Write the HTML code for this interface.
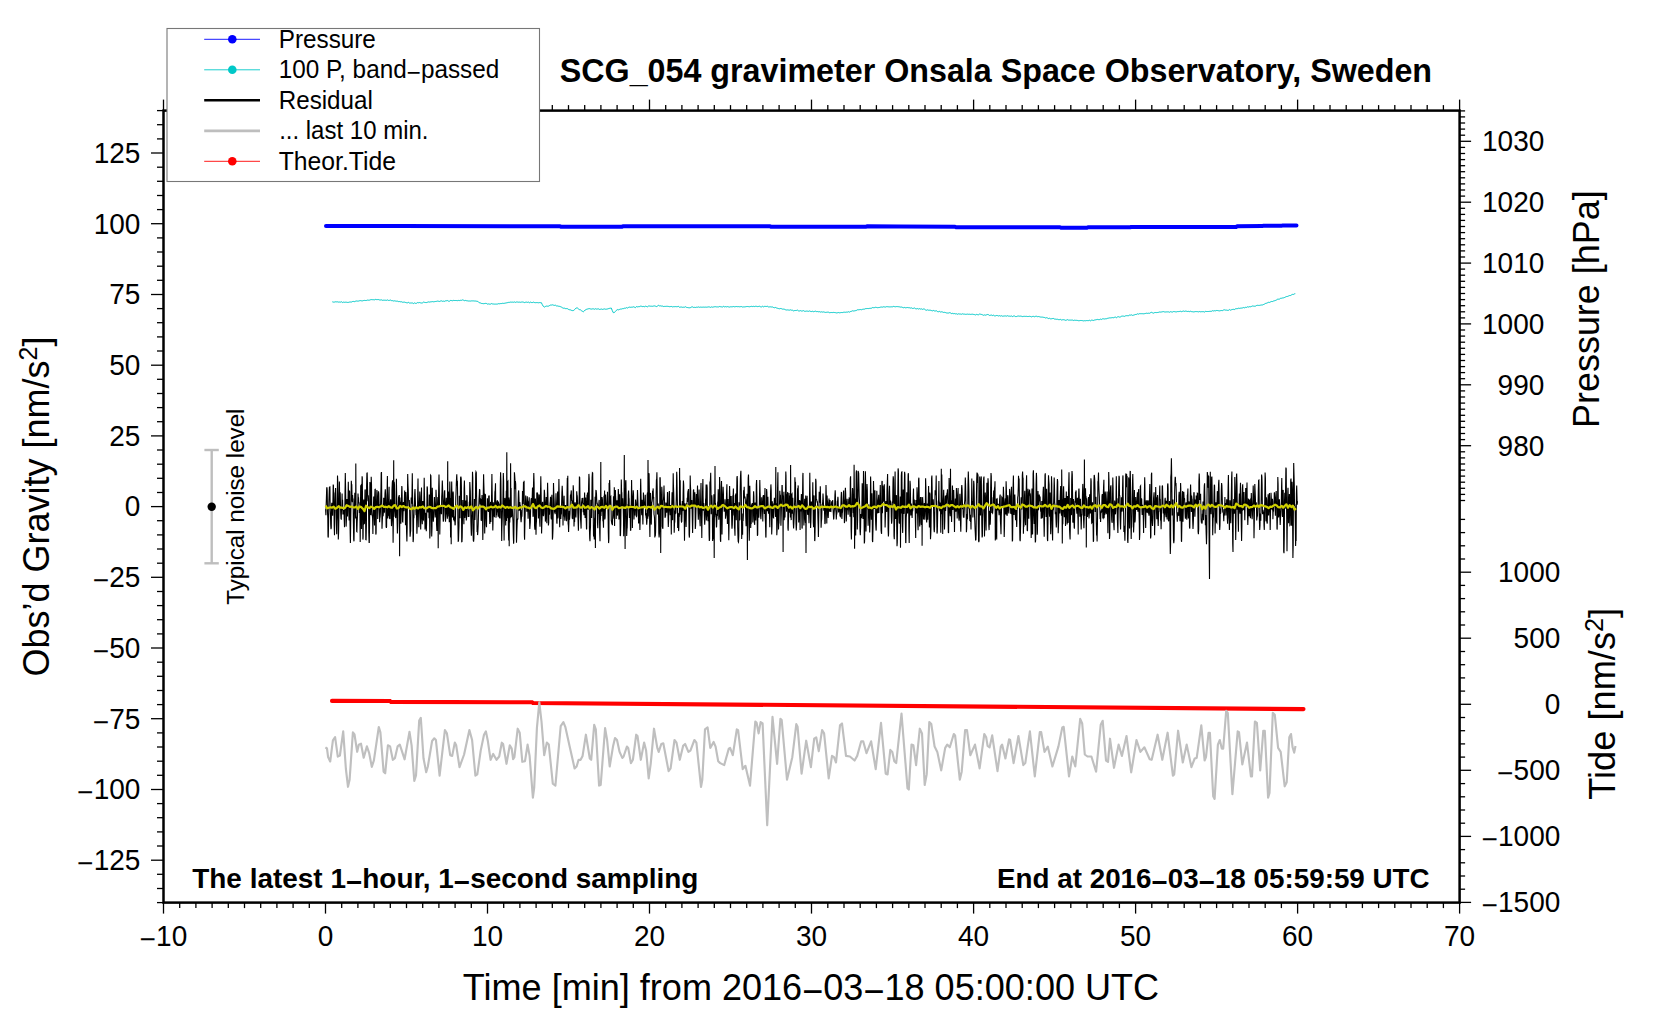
<!DOCTYPE html><html><head><meta charset="utf-8"><title>SCG_054 gravimeter Onsala Space Observatory</title><style>html,body{margin:0;padding:0;background:#fff;overflow:hidden}svg{display:block}</style></head><body><svg width="1660" height="1020" viewBox="0 0 1660 1020" font-family="'Liberation Sans', Arial, Helvetica, sans-serif">
<rect width="1660" height="1020" fill="#fff"/>
<polyline points="326.0,225.9 400.0,226.0 560.0,226.2 561.0,226.8 622.0,226.8 623.0,226.2 770.0,226.2 771.0,226.8 866.0,226.8 867.0,226.3 900.0,226.5 955.0,226.8 956.0,227.3 1060.0,227.3 1061.0,227.8 1087.0,227.8 1088.0,227.3 1130.0,227.3 1131.0,227.0 1236.0,227.0 1237.0,226.3 1262.0,226.1 1263.0,225.8 1282.0,225.7 1283.0,225.4 1296.5,225.4" fill="none" stroke="#0000ff" stroke-width="4.0" stroke-linecap="round" stroke-linejoin="round"/>
<polyline points="332.3,301.8 333.3,302.1 334.3,302.1 335.3,301.8 336.3,301.9 337.3,301.8 338.3,302.1 339.3,302.0 340.3,302.2 341.3,301.7 342.3,302.5 343.3,302.1 344.3,302.3 345.3,302.2 346.3,302.2 347.3,302.4 348.3,302.4 349.3,302.1 350.3,302.0 351.3,302.1 352.3,301.6 353.3,301.4 354.3,301.7 355.3,301.3 356.3,301.0 357.3,301.1 358.3,301.1 359.3,300.8 360.3,300.6 361.3,300.8 362.3,300.9 363.3,300.6 364.3,300.4 365.3,300.5 366.3,300.5 367.3,300.1 368.3,300.2 369.3,300.2 370.3,299.8 371.3,299.6 372.3,299.7 373.3,299.7 374.3,299.9 375.3,299.4 376.3,299.6 377.3,299.6 378.3,299.5 379.3,299.9 380.3,300.0 381.3,299.8 382.3,300.3 383.3,300.2 384.3,300.2 385.3,300.2 386.3,300.4 387.3,299.9 388.3,300.4 389.3,300.4 390.3,300.0 391.3,300.6 392.3,300.6 393.3,301.0 394.3,300.8 395.3,301.0 396.3,301.2 397.3,301.1 398.3,301.6 399.3,301.5 400.3,301.8 401.3,301.7 402.3,302.2 403.3,302.2 404.3,302.1 405.3,302.4 406.3,302.7 407.3,302.9 408.3,302.3 409.3,303.0 410.3,303.0 411.3,303.0 412.3,302.9 413.3,303.6 414.3,302.9 415.3,303.3 416.3,303.4 417.3,302.6 418.3,302.8 419.3,302.5 420.3,302.8 421.3,303.0 422.3,303.0 423.3,302.1 424.3,302.3 425.3,302.5 426.3,302.6 427.3,302.3 428.3,301.9 429.3,302.1 430.3,301.9 431.3,301.8 432.3,301.6 433.3,301.8 434.3,301.7 435.3,301.5 436.3,301.4 437.3,301.1 438.3,301.2 439.3,301.5 440.3,301.1 441.3,300.8 442.3,301.3 443.3,301.1 444.3,301.4 445.3,300.9 446.3,300.8 447.3,300.5 448.3,301.1 449.3,301.3 450.3,300.5 451.3,300.5 452.3,300.8 453.3,300.4 454.3,300.5 455.3,300.5 456.3,300.5 457.3,300.7 458.3,300.4 459.3,300.6 460.3,300.3 461.3,300.4 462.3,299.9 463.3,300.1 464.3,300.7 465.3,300.4 466.3,300.7 467.3,300.8 468.3,301.0 469.3,301.0 470.3,301.1 471.3,300.9 472.3,300.9 473.3,300.9 474.3,301.0 475.3,301.0 476.3,301.2 477.3,301.3 478.3,301.7 479.3,302.8 480.3,302.9 481.3,303.4 482.3,303.5 483.3,303.7 484.3,303.6 485.3,303.4 486.3,303.4 487.3,304.1 488.3,303.9 489.3,304.1 490.3,304.2 491.3,303.6 492.3,303.9 493.3,304.0 494.3,304.1 495.3,304.1 496.3,304.1 497.3,304.1 498.3,303.7 499.3,303.8 500.3,303.6 501.3,303.6 502.3,303.3 503.3,303.4 504.3,303.3 505.3,303.1 506.3,302.9 507.3,302.7 508.3,302.4 509.3,302.4 510.3,302.1 511.3,302.2 512.3,302.1 513.3,302.3 514.3,301.9 515.3,302.4 516.3,302.0 517.3,302.0 518.3,302.2 519.3,302.1 520.3,302.3 521.3,302.1 522.3,302.0 523.3,302.1 524.3,302.6 525.3,302.3 526.3,302.1 527.3,302.4 528.3,302.0 529.3,302.8 530.3,302.1 531.3,302.5 532.3,302.6 533.3,302.1 534.3,302.5 535.3,302.7 536.3,302.6 537.3,302.6 538.3,302.8 539.3,302.6 540.3,302.7 541.3,302.6 542.3,304.6 543.3,306.3 544.3,307.1 545.3,306.5 546.3,306.1 547.3,306.2 548.3,306.2 549.3,305.7 550.3,305.1 551.3,305.1 552.3,304.8 553.3,305.1 554.3,305.4 555.3,305.1 556.3,305.9 557.3,305.9 558.3,306.2 559.3,306.3 560.3,306.6 561.3,307.0 562.3,307.7 563.3,308.2 564.3,308.1 565.3,308.6 566.3,308.6 567.3,308.6 568.3,309.3 569.3,309.7 570.3,309.8 571.3,310.3 572.3,310.6 573.3,310.6 574.3,309.8 575.3,309.0 576.3,307.9 577.3,307.9 578.3,308.8 579.3,309.6 580.3,309.7 581.3,310.6 582.3,311.2 583.3,311.8 584.3,311.0 585.3,309.9 586.3,309.4 587.3,309.1 588.3,308.8 589.3,308.6 590.3,308.9 591.3,309.1 592.3,308.9 593.3,308.8 594.3,309.3 595.3,308.7 596.3,309.1 597.3,309.0 598.3,308.8 599.3,309.4 600.3,309.3 601.3,309.0 602.3,309.4 603.3,309.2 604.3,308.9 605.3,309.2 606.3,309.2 607.3,309.0 608.3,308.7 609.3,308.4 610.3,308.2 611.3,308.1 612.3,310.6 613.3,312.7 614.3,312.5 615.3,311.6 616.3,310.4 617.3,309.6 618.3,309.9 619.3,309.5 620.3,309.1 621.3,309.1 622.3,308.7 623.3,308.7 624.3,308.2 625.3,308.3 626.3,307.6 627.3,308.1 628.3,307.5 629.3,307.1 630.3,307.3 631.3,307.2 632.3,307.2 633.3,306.8 634.3,307.1 635.3,307.7 636.3,306.6 637.3,306.9 638.3,306.7 639.3,306.7 640.3,306.2 641.3,306.2 642.3,306.6 643.3,306.4 644.3,306.8 645.3,306.2 646.3,306.4 647.3,306.9 648.3,306.1 649.3,306.0 650.3,306.2 651.3,306.2 652.3,306.3 653.3,306.1 654.3,305.9 655.3,306.1 656.3,306.6 657.3,306.2 658.3,305.3 659.3,305.9 660.3,305.8 661.3,306.1 662.3,306.0 663.3,306.5 664.3,306.4 665.3,306.4 666.3,306.3 667.3,306.3 668.3,306.4 669.3,306.7 670.3,306.6 671.3,306.4 672.3,306.9 673.3,306.7 674.3,306.7 675.3,306.6 676.3,306.7 677.3,306.7 678.3,306.3 679.3,307.2 680.3,307.1 681.3,307.0 682.3,307.3 683.3,307.2 684.3,307.3 685.3,306.7 686.3,307.3 687.3,307.5 688.3,307.7 689.3,307.8 690.3,307.7 691.3,307.1 692.3,306.8 693.3,307.4 694.3,307.3 695.3,307.5 696.3,307.2 697.3,307.3 698.3,306.9 699.3,307.3 700.3,307.1 701.3,307.2 702.3,307.2 703.3,307.1 704.3,307.2 705.3,307.1 706.3,307.2 707.3,307.1 708.3,306.9 709.3,306.9 710.3,307.4 711.3,306.9 712.3,307.2 713.3,307.0 714.3,306.8 715.3,306.7 716.3,306.9 717.3,306.9 718.3,307.0 719.3,306.5 720.3,306.7 721.3,306.8 722.3,307.1 723.3,306.3 724.3,306.9 725.3,306.6 726.3,306.9 727.3,306.6 728.3,306.8 729.3,307.1 730.3,306.8 731.3,306.8 732.3,306.8 733.3,306.5 734.3,306.8 735.3,306.7 736.3,306.5 737.3,306.7 738.3,306.6 739.3,306.8 740.3,306.7 741.3,306.5 742.3,307.0 743.3,306.9 744.3,306.9 745.3,306.8 746.3,306.6 747.3,306.5 748.3,306.6 749.3,306.8 750.3,306.6 751.3,306.3 752.3,306.6 753.3,306.3 754.3,306.6 755.3,306.3 756.3,306.3 757.3,306.6 758.3,306.5 759.3,306.2 760.3,306.7 761.3,307.0 762.3,306.2 763.3,306.9 764.3,306.4 765.3,306.4 766.3,306.5 767.3,306.2 768.3,306.9 769.3,306.9 770.3,306.8 771.3,307.0 772.3,306.9 773.3,307.4 774.3,307.8 775.3,307.4 776.3,307.9 777.3,308.2 778.3,308.5 779.3,308.8 780.3,308.5 781.3,308.6 782.3,309.1 783.3,309.1 784.3,309.2 785.3,309.7 786.3,310.0 787.3,309.9 788.3,310.0 789.3,310.2 790.3,309.8 791.3,310.2 792.3,310.1 793.3,310.9 794.3,310.6 795.3,310.5 796.3,310.5 797.3,310.0 798.3,310.8 799.3,311.0 800.3,310.6 801.3,311.0 802.3,311.0 803.3,310.6 804.3,311.2 805.3,311.3 806.3,311.1 807.3,311.1 808.3,311.4 809.3,310.9 810.3,311.3 811.3,311.6 812.3,311.2 813.3,311.7 814.3,311.5 815.3,311.1 816.3,311.6 817.3,311.5 818.3,311.8 819.3,311.6 820.3,312.1 821.3,311.8 822.3,312.1 823.3,311.9 824.3,312.1 825.3,312.4 826.3,312.3 827.3,312.2 828.3,312.1 829.3,312.7 830.3,312.6 831.3,312.5 832.3,312.6 833.3,312.4 834.3,312.5 835.3,312.6 836.3,312.9 837.3,312.8 838.3,312.5 839.3,312.8 840.3,312.7 841.3,312.5 842.3,312.6 843.3,312.3 844.3,312.2 845.3,312.3 846.3,312.1 847.3,312.2 848.3,311.7 849.3,312.2 850.3,311.6 851.3,311.4 852.3,310.8 853.3,311.0 854.3,310.9 855.3,310.7 856.3,310.5 857.3,309.8 858.3,309.8 859.3,309.7 860.3,309.5 861.3,309.8 862.3,309.4 863.3,309.2 864.3,309.2 865.3,308.7 866.3,308.6 867.3,308.5 868.3,308.6 869.3,308.4 870.3,308.3 871.3,308.3 872.3,307.6 873.3,307.7 874.3,307.7 875.3,307.3 876.3,307.4 877.3,307.7 878.3,307.6 879.3,307.5 880.3,307.2 881.3,307.0 882.3,307.2 883.3,306.8 884.3,306.9 885.3,307.1 886.3,306.7 887.3,306.7 888.3,306.8 889.3,306.9 890.3,306.9 891.3,306.8 892.3,306.9 893.3,306.4 894.3,306.6 895.3,306.8 896.3,306.6 897.3,306.6 898.3,306.7 899.3,306.8 900.3,307.1 901.3,307.0 902.3,307.3 903.3,307.8 904.3,307.4 905.3,307.8 906.3,307.7 907.3,307.5 908.3,307.7 909.3,307.7 910.3,308.1 911.3,307.8 912.3,308.4 913.3,308.4 914.3,307.9 915.3,308.6 916.3,308.9 917.3,308.5 918.3,309.1 919.3,308.6 920.3,309.1 921.3,308.8 922.3,309.4 923.3,309.0 924.3,309.0 925.3,309.8 926.3,310.3 927.3,309.8 928.3,310.2 929.3,310.2 930.3,310.2 931.3,310.5 932.3,310.9 933.3,310.4 934.3,310.9 935.3,311.0 936.3,310.7 937.3,311.5 938.3,311.8 939.3,311.3 940.3,312.0 941.3,311.8 942.3,311.9 943.3,312.4 944.3,312.3 945.3,312.5 946.3,312.9 947.3,313.0 948.3,313.1 949.3,312.7 950.3,312.8 951.3,313.6 952.3,313.3 953.3,313.7 954.3,313.5 955.3,313.9 956.3,313.7 957.3,314.3 958.3,313.8 959.3,314.0 960.3,314.0 961.3,314.3 962.3,313.8 963.3,314.1 964.3,314.1 965.3,314.3 966.3,314.3 967.3,314.1 968.3,314.3 969.3,314.2 970.3,314.4 971.3,314.3 972.3,314.2 973.3,314.4 974.3,314.5 975.3,315.0 976.3,314.4 977.3,314.6 978.3,314.9 979.3,314.1 980.3,314.2 981.3,314.4 982.3,314.7 983.3,315.3 984.3,314.9 985.3,315.2 986.3,314.9 987.3,314.5 988.3,314.6 989.3,315.4 990.3,315.3 991.3,315.0 992.3,315.6 993.3,315.1 994.3,315.8 995.3,315.9 996.3,315.5 997.3,315.5 998.3,316.0 999.3,315.6 1000.3,316.1 1001.3,315.7 1002.3,316.2 1003.3,316.1 1004.3,316.0 1005.3,315.9 1006.3,316.2 1007.3,315.7 1008.3,316.1 1009.3,316.1 1010.3,316.3 1011.3,315.9 1012.3,316.6 1013.3,316.1 1014.3,315.9 1015.3,316.5 1016.3,316.6 1017.3,316.2 1018.3,316.0 1019.3,316.2 1020.3,316.1 1021.3,316.2 1022.3,316.6 1023.3,316.4 1024.3,316.3 1025.3,316.4 1026.3,316.3 1027.3,316.5 1028.3,316.5 1029.3,316.3 1030.3,316.4 1031.3,316.9 1032.3,316.5 1033.3,316.3 1034.3,316.8 1035.3,316.4 1036.3,316.2 1037.3,316.7 1038.3,316.5 1039.3,316.7 1040.3,317.0 1041.3,317.1 1042.3,317.1 1043.3,317.3 1044.3,317.4 1045.3,318.0 1046.3,317.7 1047.3,317.9 1048.3,318.6 1049.3,318.2 1050.3,318.8 1051.3,318.8 1052.3,318.6 1053.3,318.4 1054.3,319.0 1055.3,319.1 1056.3,319.3 1057.3,319.2 1058.3,319.6 1059.3,319.7 1060.3,319.3 1061.3,320.0 1062.3,319.8 1063.3,319.7 1064.3,319.8 1065.3,320.3 1066.3,320.2 1067.3,319.6 1068.3,320.1 1069.3,320.1 1070.3,320.1 1071.3,320.1 1072.3,320.0 1073.3,320.5 1074.3,320.2 1075.3,320.3 1076.3,320.3 1077.3,320.4 1078.3,320.7 1079.3,320.7 1080.3,320.5 1081.3,320.5 1082.3,320.6 1083.3,320.9 1084.3,320.7 1085.3,320.8 1086.3,320.6 1087.3,320.6 1088.3,320.7 1089.3,320.2 1090.3,320.9 1091.3,320.2 1092.3,320.2 1093.3,320.5 1094.3,320.1 1095.3,319.9 1096.3,319.7 1097.3,319.4 1098.3,319.6 1099.3,319.7 1100.3,319.1 1101.3,319.5 1102.3,318.9 1103.3,318.8 1104.3,319.0 1105.3,318.8 1106.3,318.8 1107.3,318.4 1108.3,318.2 1109.3,317.9 1110.3,317.9 1111.3,317.8 1112.3,317.6 1113.3,317.8 1114.3,317.4 1115.3,317.0 1116.3,317.8 1117.3,317.0 1118.3,316.7 1119.3,317.1 1120.3,317.0 1121.3,316.3 1122.3,316.1 1123.3,316.1 1124.3,316.4 1125.3,315.9 1126.3,315.7 1127.3,315.7 1128.3,315.8 1129.3,315.1 1130.3,315.2 1131.3,314.8 1132.3,315.4 1133.3,315.2 1134.3,314.9 1135.3,314.5 1136.3,314.5 1137.3,313.8 1138.3,314.2 1139.3,313.7 1140.3,313.7 1141.3,313.7 1142.3,313.7 1143.3,313.8 1144.3,313.7 1145.3,313.5 1146.3,313.2 1147.3,313.4 1148.3,313.2 1149.3,313.4 1150.3,312.8 1151.3,312.3 1152.3,312.7 1153.3,313.2 1154.3,312.7 1155.3,312.5 1156.3,312.6 1157.3,312.5 1158.3,312.4 1159.3,312.0 1160.3,312.1 1161.3,312.0 1162.3,311.8 1163.3,311.6 1164.3,311.9 1165.3,312.0 1166.3,311.9 1167.3,311.9 1168.3,311.8 1169.3,312.3 1170.3,311.7 1171.3,311.9 1172.3,312.1 1173.3,311.6 1174.3,311.6 1175.3,311.8 1176.3,311.9 1177.3,311.6 1178.3,311.6 1179.3,311.5 1180.3,311.2 1181.3,311.7 1182.3,311.4 1183.3,311.0 1184.3,311.4 1185.3,311.1 1186.3,311.2 1187.3,311.5 1188.3,311.3 1189.3,311.7 1190.3,311.2 1191.3,311.6 1192.3,311.7 1193.3,311.9 1194.3,311.8 1195.3,311.6 1196.3,311.6 1197.3,311.6 1198.3,311.9 1199.3,311.5 1200.3,311.8 1201.3,311.7 1202.3,311.7 1203.3,311.6 1204.3,312.1 1205.3,311.4 1206.3,311.5 1207.3,311.5 1208.3,311.5 1209.3,311.4 1210.3,311.3 1211.3,311.4 1212.3,310.7 1213.3,311.0 1214.3,310.7 1215.3,310.9 1216.3,310.5 1217.3,310.5 1218.3,310.7 1219.3,310.9 1220.3,310.7 1221.3,310.5 1222.3,310.7 1223.3,310.1 1224.3,309.8 1225.3,310.1 1226.3,310.1 1227.3,310.3 1228.3,310.4 1229.3,309.5 1230.3,310.2 1231.3,309.8 1232.3,309.5 1233.3,309.3 1234.3,309.6 1235.3,308.9 1236.3,308.7 1237.3,308.7 1238.3,308.2 1239.3,308.4 1240.3,308.2 1241.3,308.1 1242.3,308.0 1243.3,307.5 1244.3,307.9 1245.3,307.3 1246.3,307.5 1247.3,306.8 1248.3,307.1 1249.3,306.7 1250.3,306.8 1251.3,306.5 1252.3,306.0 1253.3,306.1 1254.3,306.2 1255.3,306.2 1256.3,305.6 1257.3,305.3 1258.3,305.4 1259.3,305.4 1260.3,305.2 1261.3,305.0 1262.3,305.0 1263.3,304.6 1264.3,304.2 1265.3,303.5 1266.3,303.3 1267.3,302.9 1268.3,302.3 1269.3,302.5 1270.3,302.0 1271.3,301.5 1272.3,301.6 1273.3,301.1 1274.3,300.8 1275.3,300.5 1276.3,300.1 1277.3,299.3 1278.3,299.2 1279.3,299.2 1280.3,298.4 1281.3,298.3 1282.3,298.0 1283.3,297.9 1284.3,297.6 1285.3,297.1 1286.3,296.6 1287.3,296.5 1288.3,296.1 1289.3,295.6 1290.3,295.6 1291.3,295.0 1292.3,294.4 1293.3,294.5 1294.3,293.9 1295.3,293.7" fill="none" stroke="#00c8c8" stroke-width="1" stroke-linejoin="round"/>
<polyline points="325.6,509.3 325.9,515.2 326.1,506.4 326.4,497.9 326.7,487.7 327.0,487.7 327.2,490.5 327.5,512.6 327.8,518.5 328.0,536.4 328.3,537.5 328.6,521.6 328.8,503.9 329.1,495.5 329.4,487.0 329.7,490.2 329.9,486.2 330.2,510.5 330.5,515.6 330.7,524.6 331.0,529.1 331.3,527.5 331.5,506.4 331.8,502.9 332.1,509.0 332.4,507.6 332.6,515.7 332.9,502.7 333.2,484.6 333.4,485.2 333.7,495.6 334.0,508.4 334.2,526.1 334.5,535.2 334.8,511.4 335.1,492.6 335.3,494.6 335.6,488.0 335.9,503.3 336.1,509.1 336.4,523.9 336.7,534.3 336.9,521.2 337.2,515.3 337.5,475.4 337.8,482.2 338.0,493.5 338.3,539.6 338.6,532.6 338.8,521.0 339.1,501.3 339.4,481.4 339.6,494.3 339.9,507.1 340.2,492.3 340.5,504.3 340.7,513.2 341.0,518.9 341.3,519.1 341.5,508.6 341.8,509.0 342.1,493.6 342.3,504.6 342.6,499.7 342.9,513.9 343.2,513.9 343.4,512.1 343.7,511.3 344.0,510.0 344.2,519.0 344.5,527.3 344.8,509.6 345.0,494.4 345.3,472.9 345.6,488.5 345.9,507.9 346.1,526.6 346.4,520.4 346.7,510.3 346.9,499.1 347.2,505.7 347.5,516.5 347.7,500.7 348.0,501.1 348.3,481.8 348.6,499.6 348.8,511.6 349.1,520.4 349.4,490.5 349.6,491.6 349.9,517.5 350.2,534.4 350.4,542.9 350.7,523.1 351.0,502.7 351.3,480.8 351.5,484.0 351.8,484.6 352.1,499.9 352.3,502.2 352.6,494.9 352.9,501.7 353.1,498.4 353.4,523.0 353.7,539.4 354.0,541.3 354.2,527.9 354.5,504.8 354.8,492.7 355.0,493.7 355.3,502.3 355.6,518.4 355.8,463.4 356.1,516.2 356.4,517.7 356.7,531.4 356.9,531.6 357.2,521.6 357.5,515.9 357.7,508.3 358.0,493.6 358.3,499.2 358.5,497.4 358.8,503.5 359.1,502.2 359.4,512.9 359.6,511.5 359.9,509.9 360.2,542.0 360.4,516.4 360.7,485.9 361.0,485.4 361.2,505.3 361.5,529.1 361.8,498.0 362.1,476.3 362.3,478.0 362.6,509.1 362.9,539.6 363.1,537.0 363.4,507.8 363.7,499.6 363.9,512.3 364.2,523.6 364.5,523.3 364.8,501.5 365.0,490.4 365.3,489.5 365.6,515.1 365.8,539.6 366.1,539.7 366.4,526.1 366.6,486.1 366.9,473.2 367.2,473.1 367.5,486.6 367.7,495.9 368.0,501.1 368.3,495.4 368.5,499.3 368.8,532.4 369.1,542.5 369.3,542.5 369.6,521.0 369.9,482.1 370.2,485.4 370.4,513.3 370.7,515.1 371.0,494.9 371.2,476.7 371.5,484.3 371.8,510.2 372.0,515.1 372.3,515.3 372.6,518.4 372.9,534.1 373.1,516.2 373.4,510.0 373.7,496.5 373.9,506.2 374.2,515.5 374.5,525.4 374.7,497.0 375.0,489.4 375.3,489.3 375.6,513.4 375.8,534.6 376.1,533.3 376.4,506.2 376.6,500.4 376.9,490.0 377.2,493.4 377.4,497.9 377.7,518.9 378.0,510.5 378.3,503.8 378.5,491.3 378.8,493.5 379.1,504.4 379.3,503.9 379.6,522.2 379.9,517.8 380.1,517.2 380.4,512.8 380.7,499.7 381.0,486.8 381.2,472.8 381.5,472.1 381.8,505.3 382.0,528.7 382.3,521.3 382.6,515.2 382.9,506.8 383.1,516.1 383.4,512.3 383.7,497.8 383.9,503.0 384.2,511.6 384.5,512.0 384.7,503.6 385.0,493.6 385.3,489.3 385.6,494.9 385.8,503.2 386.1,526.6 386.4,527.9 386.6,526.7 386.9,501.3 387.2,485.4 387.4,476.1 387.7,518.5 388.0,515.8 388.3,515.5 388.5,507.1 388.8,494.4 389.1,486.8 389.3,513.8 389.6,518.4 389.9,519.0 390.1,505.8 390.4,502.1 390.7,499.3 391.0,503.1 391.2,517.7 391.5,526.1 391.8,520.0 392.0,490.1 392.3,482.8 392.6,480.3 392.8,509.6 393.1,542.8 393.4,519.1 393.7,460.3 393.9,516.7 394.2,481.7 394.5,484.9 394.7,503.5 395.0,510.4 395.3,513.5 395.5,517.1 395.8,518.1 396.1,508.2 396.4,478.8 396.6,491.8 396.9,511.2 397.2,525.1 397.4,533.4 397.7,525.5 398.0,505.5 398.2,508.2 398.5,497.7 398.8,496.6 399.1,497.1 399.3,495.1 399.6,556.3 399.9,497.5 400.1,503.4 400.4,503.0 400.7,511.2 400.9,523.7 401.2,510.0 401.5,498.2 401.8,486.0 402.0,487.7 402.3,507.0 402.6,521.8 402.8,521.9 403.1,512.3 403.4,502.0 403.6,504.8 403.9,511.2 404.2,506.5 404.5,495.7 404.7,490.5 405.0,503.4 405.3,509.6 405.5,525.2 405.8,492.0 406.1,497.3 406.3,517.1 406.6,533.3 406.9,541.5 407.2,527.6 407.4,500.3 407.7,474.0 408.0,485.0 408.2,488.9 408.5,499.0 408.8,503.0 409.0,506.4 409.3,499.9 409.6,508.5 409.9,528.7 410.1,536.7 410.4,533.2 410.7,530.6 410.9,510.0 411.2,497.4 411.5,500.5 411.7,503.6 412.0,493.2 412.3,473.2 412.6,497.6 412.8,514.6 413.1,542.1 413.4,539.1 413.6,514.8 413.9,518.3 414.2,505.4 414.4,505.5 414.7,493.7 415.0,489.0 415.3,498.2 415.5,505.1 415.8,509.1 416.1,515.2 416.3,507.9 416.6,518.1 416.9,533.8 417.1,528.8 417.4,519.2 417.7,494.6 418.0,478.4 418.2,495.6 418.5,509.1 418.8,527.2 419.0,519.3 419.3,505.9 419.6,497.7 419.8,491.6 420.1,496.2 420.4,514.6 420.7,529.4 420.9,520.3 421.2,506.2 421.5,487.4 421.7,509.0 422.0,518.2 422.3,524.3 422.5,504.0 422.8,501.1 423.1,502.0 423.4,519.7 423.6,520.0 423.9,502.6 424.2,477.7 424.4,491.6 424.7,505.5 425.0,529.5 425.2,521.9 425.5,512.7 425.8,515.0 426.1,526.8 426.3,531.2 426.6,523.4 426.9,501.7 427.1,486.5 427.4,487.7 427.7,500.3 427.9,512.6 428.2,505.8 428.5,506.9 428.8,506.3 429.0,518.2 429.3,494.4 429.6,517.2 429.8,538.5 430.1,532.2 430.4,497.2 430.6,475.2 430.9,475.6 431.2,496.7 431.5,520.0 431.7,536.5 432.0,528.1 432.3,487.8 432.5,497.8 432.8,513.0 433.1,515.4 433.3,521.7 433.6,517.8 433.9,511.5 434.2,503.8 434.4,497.0 434.7,505.3 435.0,505.7 435.2,517.4 435.5,512.3 435.8,501.9 436.0,489.8 436.3,496.9 436.6,525.6 436.9,531.0 437.1,530.1 437.4,506.9 437.7,499.8 437.9,497.0 438.2,548.3 438.5,499.1 438.7,488.1 439.0,474.6 439.3,490.6 439.6,516.1 439.8,534.4 440.1,516.4 440.4,505.4 440.6,505.8 440.9,509.1 441.2,512.6 441.5,514.2 441.7,497.4 442.0,492.0 442.3,480.4 442.5,485.2 442.8,495.2 443.1,518.0 443.3,521.6 443.6,519.2 443.9,502.3 444.2,497.7 444.4,491.8 444.7,490.3 445.0,506.9 445.2,514.9 445.5,521.7 445.8,516.4 446.0,502.9 446.3,497.7 446.6,510.8 446.9,514.0 447.1,514.7 447.4,518.8 447.7,461.3 447.9,516.5 448.2,494.3 448.5,491.4 448.7,502.2 449.0,512.0 449.3,522.2 449.6,498.1 449.8,481.5 450.1,494.4 450.4,520.8 450.6,537.6 450.9,498.0 451.2,544.3 451.4,499.9 451.7,481.6 452.0,498.8 452.3,511.7 452.5,517.5 452.8,497.5 453.1,491.5 453.3,493.5 453.6,520.0 453.9,507.9 454.1,521.3 454.4,519.6 454.7,516.5 455.0,524.6 455.2,525.3 455.5,516.4 455.8,497.0 456.0,494.3 456.3,483.9 456.6,477.0 456.8,474.2 457.1,485.6 457.4,480.8 457.7,502.7 457.9,521.7 458.2,541.3 458.5,541.2 458.7,534.6 459.0,525.5 459.3,495.8 459.5,496.8 459.8,504.9 460.1,518.3 460.4,488.3 460.6,477.7 460.9,476.7 461.2,478.5 461.4,486.9 461.7,541.8 462.0,541.7 462.2,536.9 462.5,515.9 462.8,500.0 463.1,514.8 463.3,509.9 463.6,514.6 463.9,524.3 464.1,489.1 464.4,480.5 464.7,494.1 464.9,517.9 465.2,513.5 465.5,507.4 465.8,500.4 466.0,507.8 466.3,520.4 466.6,517.8 466.8,495.0 467.1,496.6 467.4,508.2 467.6,508.0 467.9,510.0 468.2,516.9 468.5,510.1 468.7,511.5 469.0,516.9 469.3,501.8 469.5,508.2 469.8,482.0 470.1,487.8 470.3,490.7 470.6,504.8 470.9,522.2 471.2,532.1 471.4,535.8 471.7,521.8 472.0,512.2 472.2,495.8 472.5,471.7 472.8,477.8 473.0,530.0 473.3,540.4 473.6,541.7 473.9,538.4 474.1,524.8 474.4,498.9 474.7,504.9 474.9,519.9 475.2,513.3 475.5,495.5 475.7,473.9 476.0,471.8 476.3,472.5 476.6,496.6 476.8,507.3 477.1,532.1 477.4,529.8 477.6,535.1 477.9,531.4 478.2,524.5 478.4,517.3 478.7,507.8 479.0,499.8 479.3,494.4 479.5,489.7 479.8,489.9 480.1,504.6 480.3,498.4 480.6,500.0 480.9,499.1 481.1,520.1 481.4,520.3 481.7,504.8 482.0,495.1 482.2,500.1 482.5,512.5 482.8,540.1 483.0,530.0 483.3,490.8 483.6,474.3 483.8,482.5 484.1,491.9 484.4,512.4 484.7,533.5 484.9,523.9 485.2,494.5 485.5,494.8 485.7,512.4 486.0,516.7 486.3,525.6 486.5,527.3 486.8,510.1 487.1,511.2 487.4,498.2 487.6,503.5 487.9,502.3 488.2,508.6 488.4,511.9 488.7,495.8 489.0,497.6 489.2,495.4 489.5,513.9 489.8,524.0 490.1,521.7 490.3,506.4 490.6,501.9 490.9,522.0 491.1,511.2 491.4,508.6 491.7,487.1 491.9,474.1 492.2,494.4 492.5,512.3 492.8,530.5 493.0,523.8 493.3,502.2 493.6,507.0 493.8,516.2 494.1,511.0 494.4,517.3 494.6,503.5 494.9,491.7 495.2,490.4 495.5,483.2 495.7,502.7 496.0,517.8 496.3,513.3 496.5,515.2 496.8,502.9 497.1,500.8 497.4,500.7 497.6,511.6 497.9,512.6 498.2,516.7 498.4,501.5 498.7,511.6 499.0,503.6 499.2,516.6 499.5,518.2 499.8,507.1 500.1,518.4 500.3,484.8 500.6,472.2 500.9,481.0 501.1,500.0 501.4,516.0 501.7,541.0 501.9,527.9 502.2,520.3 502.5,508.9 502.8,506.9 503.0,495.1 503.3,473.1 503.6,480.9 503.8,515.5 504.1,540.6 504.4,509.2 504.6,506.4 504.9,497.9 505.2,501.4 505.5,519.1 505.7,525.6 506.0,507.7 506.3,490.7 506.5,520.9 506.8,452.2 507.1,518.2 507.3,491.4 507.6,481.9 507.9,481.4 508.2,513.7 508.4,529.3 508.7,540.5 509.0,497.4 509.2,546.2 509.5,499.4 509.8,522.6 510.0,503.1 510.3,518.2 510.6,463.2 510.9,516.0 511.1,488.0 511.4,517.3 511.7,514.8 511.9,511.9 512.2,506.6 512.5,512.4 512.7,516.3 513.0,520.9 513.3,535.6 513.6,543.8 513.8,541.3 514.1,515.8 514.4,472.2 514.6,474.3 514.9,478.7 515.2,489.3 515.4,481.0 515.7,484.0 516.0,504.4 516.3,518.6 516.5,542.7 516.8,534.0 517.1,525.0 517.3,520.1 517.6,518.9 517.9,518.9 518.1,504.7 518.4,493.1 518.7,490.4 519.0,499.1 519.2,510.7 519.5,509.8 519.8,502.1 520.0,504.4 520.3,505.2 520.6,515.3 520.8,519.1 521.1,522.2 521.4,518.5 521.7,509.9 521.9,516.8 522.2,508.3 522.5,490.9 522.7,496.9 523.0,504.0 523.3,491.7 523.5,482.0 523.8,485.5 524.1,480.8 524.4,535.8 524.6,539.8 524.9,523.9 525.2,514.0 525.4,503.2 525.7,495.6 526.0,501.3 526.2,506.2 526.5,505.6 526.8,511.8 527.1,505.4 527.3,496.2 527.6,504.1 527.9,510.7 528.1,518.7 528.4,506.8 528.7,500.7 528.9,502.9 529.2,497.3 529.5,517.9 529.8,529.0 530.0,526.2 530.3,522.2 530.6,510.2 530.8,503.9 531.1,499.5 531.4,498.1 531.6,507.8 531.9,503.7 532.2,497.8 532.5,487.4 532.7,494.4 533.0,516.8 533.3,515.4 533.5,485.3 533.8,472.9 534.1,483.1 534.3,502.4 534.6,526.3 534.9,529.6 535.2,505.9 535.4,498.5 535.7,505.9 536.0,534.8 536.2,524.6 536.5,520.8 536.8,492.5 537.0,505.4 537.3,495.2 537.6,493.8 537.9,494.7 538.1,504.9 538.4,518.6 538.7,508.0 538.9,503.9 539.2,494.6 539.5,509.6 539.7,522.1 540.0,526.8 540.3,499.5 540.6,487.7 540.8,476.2 541.1,492.2 541.4,512.8 541.6,533.5 541.9,522.0 542.2,514.3 542.4,502.9 542.7,501.8 543.0,514.4 543.3,514.0 543.5,516.1 543.8,513.6 544.1,497.6 544.3,489.7 544.6,493.3 544.9,503.1 545.1,510.8 545.4,521.6 545.7,515.6 546.0,501.9 546.2,497.1 546.5,513.3 546.8,523.3 547.0,504.1 547.3,498.0 547.6,482.7 547.8,491.8 548.1,504.3 548.4,525.4 548.7,522.9 548.9,511.5 549.2,505.2 549.5,514.8 549.7,510.1 550.0,503.5 550.3,501.1 550.5,496.9 550.8,501.6 551.1,517.9 551.4,519.3 551.6,499.6 551.9,494.8 552.2,520.1 552.4,539.6 552.7,537.0 553.0,528.7 553.2,509.9 553.5,483.1 553.8,493.8 554.1,499.8 554.3,504.3 554.6,512.8 554.9,508.8 555.1,514.2 555.4,511.0 555.7,503.6 556.0,493.2 556.2,501.2 556.5,512.9 556.8,522.8 557.0,523.7 557.3,506.3 557.6,491.6 557.8,518.5 558.1,516.9 558.4,501.3 558.7,493.3 558.9,479.1 559.2,495.2 559.5,519.0 559.7,527.2 560.0,507.5 560.3,510.5 560.5,507.7 560.8,518.9 561.1,512.3 561.4,514.6 561.6,504.6 561.9,492.9 562.2,485.8 562.4,490.6 562.7,497.0 563.0,525.4 563.2,514.3 563.5,516.5 563.8,503.8 564.1,495.7 564.3,509.5 564.6,517.0 564.9,520.7 565.1,513.3 565.4,504.9 565.7,511.5 565.9,505.4 566.2,515.8 566.5,521.1 566.8,518.6 567.0,495.6 567.3,478.0 567.6,482.4 567.8,475.8 568.1,523.4 568.4,525.9 568.6,532.1 568.9,523.0 569.2,510.8 569.5,519.8 569.7,517.8 570.0,514.0 570.3,500.9 570.5,494.6 570.8,496.2 571.1,492.3 571.3,490.4 571.6,500.5 571.9,500.6 572.2,518.6 572.4,518.0 572.7,519.1 573.0,502.5 573.2,485.2 573.5,490.1 573.8,505.1 574.0,526.4 574.3,518.4 574.6,522.0 574.9,502.9 575.1,502.8 575.4,503.9 575.7,511.9 575.9,517.5 576.2,510.0 576.5,505.0 576.7,491.2 577.0,495.2 577.3,496.5 577.6,505.2 577.8,513.4 578.1,521.6 578.4,530.7 578.6,520.0 578.9,506.0 579.2,495.4 579.4,476.6 579.7,477.6 580.0,499.3 580.3,508.2 580.5,518.2 580.8,523.2 581.1,528.6 581.3,515.5 581.6,502.0 581.9,500.7 582.1,498.0 582.4,503.2 582.7,502.4 583.0,497.8 583.2,512.3 583.5,503.0 583.8,513.2 584.0,515.1 584.3,506.2 584.6,492.4 584.8,500.2 585.1,517.9 585.4,506.1 585.7,497.6 585.9,504.0 586.2,518.9 586.5,529.4 586.7,528.9 587.0,494.7 587.3,496.9 587.5,492.4 587.8,505.2 588.1,509.7 588.4,495.7 588.6,486.6 588.9,473.9 589.2,478.4 589.4,528.0 589.7,538.1 590.0,541.3 590.2,531.9 590.5,526.7 590.8,499.7 591.1,510.2 591.3,510.2 591.6,518.0 591.9,497.4 592.1,477.4 592.4,472.8 592.7,473.1 592.9,495.9 593.2,509.5 593.5,535.1 593.8,536.7 594.0,532.9 594.3,539.4 594.6,517.8 594.8,518.8 595.1,496.8 595.4,548.1 595.6,498.9 595.9,490.5 596.2,490.6 596.5,494.4 596.7,499.5 597.0,503.9 597.3,502.8 597.5,523.1 597.8,528.2 598.1,514.6 598.3,504.6 598.6,514.1 598.9,502.3 599.2,499.9 599.4,508.7 599.7,533.0 600.0,541.3 600.2,521.9 600.5,518.3 600.8,462.1 601.0,516.1 601.3,501.9 601.6,511.7 601.9,497.5 602.1,497.5 602.4,499.2 602.7,510.1 602.9,520.6 603.2,520.6 603.5,527.8 603.7,513.0 604.0,495.8 604.3,497.7 604.6,490.5 604.8,519.5 605.1,517.6 605.4,508.3 605.6,494.5 605.9,502.1 606.2,505.5 606.4,506.9 606.7,508.0 607.0,508.8 607.3,497.7 607.5,491.8 607.8,503.6 608.1,516.6 608.3,532.1 608.6,543.1 608.9,538.7 609.1,483.1 609.4,483.9 609.7,480.0 610.0,497.1 610.2,504.8 610.5,497.1 610.8,496.6 611.0,504.0 611.3,520.4 611.6,522.1 611.9,524.1 612.1,523.1 612.4,525.2 612.7,516.3 612.9,510.4 613.2,509.0 613.5,496.2 613.7,513.6 614.0,518.8 614.3,487.2 614.6,525.9 614.8,503.9 615.1,501.3 615.4,490.0 615.6,496.9 615.9,501.3 616.2,519.1 616.4,513.6 616.7,514.3 617.0,500.3 617.3,506.8 617.5,515.6 617.8,509.3 618.1,500.6 618.3,489.0 618.6,494.0 618.9,519.5 619.1,510.1 619.4,500.1 619.7,494.2 620.0,517.0 620.2,536.1 620.5,535.2 620.8,523.8 621.0,504.2 621.3,479.6 621.6,492.4 621.8,492.6 622.1,506.5 622.4,500.5 622.7,498.3 622.9,503.6 623.2,506.9 623.5,518.6 623.7,536.3 624.0,520.1 624.3,455.1 624.5,517.5 624.8,496.6 625.1,549.1 625.4,498.7 625.6,481.8 625.9,480.2 626.2,500.3 626.4,517.1 626.7,536.0 627.0,528.8 627.2,527.7 627.5,516.8 627.8,506.0 628.1,506.5 628.3,495.2 628.6,490.6 628.9,498.1 629.1,498.6 629.4,518.1 629.7,505.8 629.9,505.8 630.2,515.0 630.5,530.3 630.8,530.2 631.0,511.1 631.3,500.6 631.6,479.9 631.8,493.7 632.1,500.5 632.4,528.1 632.6,516.0 632.9,501.1 633.2,490.2 633.5,493.8 633.7,505.2 634.0,519.4 634.3,510.9 634.5,507.7 634.8,515.5 635.1,507.0 635.3,509.9 635.6,499.6 635.9,502.3 636.2,515.5 636.4,516.4 636.7,516.0 637.0,505.9 637.2,501.8 637.5,489.9 637.8,498.1 638.0,503.2 638.3,513.8 638.6,523.6 638.9,513.0 639.1,507.9 639.4,510.0 639.7,521.1 639.9,530.0 640.2,518.1 640.5,489.0 640.7,478.7 641.0,494.2 641.3,503.5 641.6,513.2 641.8,515.3 642.1,499.8 642.4,510.5 642.6,513.7 642.9,524.6 643.2,508.5 643.4,492.6 643.7,496.4 644.0,504.7 644.3,504.4 644.5,507.3 644.8,504.0 645.1,501.1 645.3,494.8 645.6,515.4 645.9,513.0 646.1,517.1 646.4,518.5 646.7,524.7 647.0,520.7 647.2,494.8 647.5,492.7 647.8,518.8 648.0,460.0 648.3,516.4 648.6,501.4 648.8,473.1 649.1,474.0 649.4,492.0 649.7,526.4 649.9,536.9 650.2,513.6 650.5,492.9 650.7,496.9 651.0,518.4 651.3,524.6 651.5,513.6 651.8,502.7 652.1,501.5 652.4,498.6 652.6,490.8 652.9,492.4 653.2,488.4 653.4,498.4 653.7,497.0 654.0,514.5 654.2,515.3 654.5,517.9 654.8,537.4 655.1,534.8 655.3,536.2 655.6,532.1 655.9,514.8 656.1,496.1 656.4,480.1 656.7,478.8 656.9,472.2 657.2,488.1 657.5,514.5 657.8,511.9 658.0,512.7 658.3,503.4 658.6,517.9 658.8,532.9 659.1,537.5 659.4,534.1 659.6,529.8 659.9,477.9 660.2,477.9 660.5,495.5 660.7,553.0 661.0,497.8 661.3,509.2 661.5,497.5 661.8,486.7 662.1,491.9 662.3,526.5 662.6,527.6 662.9,528.8 663.2,501.0 663.4,499.8 663.7,496.0 664.0,485.6 664.2,493.1 664.5,500.6 664.8,509.4 665.0,517.8 665.3,516.6 665.6,516.0 665.9,502.6 666.1,503.9 666.4,505.4 666.7,512.8 666.9,507.0 667.2,502.9 667.5,492.1 667.7,505.4 668.0,515.8 668.3,527.0 668.6,520.7 668.8,509.2 669.1,493.5 669.4,491.1 669.6,506.7 669.9,510.8 670.2,515.2 670.5,506.1 670.7,505.0 671.0,512.7 671.3,534.6 671.5,515.9 671.8,503.3 672.1,492.3 672.3,517.8 672.6,520.2 672.9,499.6 673.2,473.2 673.4,484.3 673.7,492.6 674.0,505.0 674.2,532.8 674.5,523.4 674.8,521.7 675.0,510.5 675.3,514.2 675.6,506.2 675.9,513.6 676.1,504.5 676.4,493.5 676.7,471.7 676.9,475.7 677.2,493.1 677.5,508.7 677.7,528.1 678.0,513.2 678.3,519.1 678.6,531.1 678.8,528.9 679.1,512.7 679.4,516.7 679.6,468.0 679.9,514.8 680.2,480.3 680.4,504.7 680.7,504.5 681.0,507.1 681.3,520.7 681.5,521.9 681.8,521.5 682.1,511.7 682.3,501.0 682.6,509.8 682.9,511.1 683.1,495.8 683.4,480.5 683.7,484.8 684.0,505.9 684.2,517.5 684.5,540.8 684.8,519.2 685.0,503.2 685.3,506.7 685.6,504.4 685.8,518.4 686.1,526.9 686.4,511.5 686.7,503.1 686.9,506.3 687.2,497.7 687.5,502.1 687.7,493.5 688.0,490.8 688.3,490.2 688.5,489.1 688.8,508.5 689.1,534.6 689.4,537.6 689.6,529.7 689.9,509.1 690.2,475.5 690.4,484.7 690.7,490.6 691.0,508.6 691.2,505.5 691.5,504.5 691.8,499.9 692.1,509.8 692.3,519.2 692.6,532.9 692.9,518.9 693.1,501.1 693.4,490.1 693.7,489.4 693.9,496.5 694.2,505.0 694.5,494.8 694.8,492.2 695.0,498.1 695.3,529.0 695.6,525.3 695.8,515.9 696.1,505.8 696.4,493.9 696.6,506.8 696.9,507.5 697.2,498.5 697.5,485.4 697.7,494.5 698.0,511.0 698.3,519.8 698.5,514.4 698.8,504.2 699.1,489.4 699.3,501.2 699.6,512.3 699.9,521.6 700.2,526.3 700.4,510.6 700.7,495.3 701.0,483.1 701.2,504.2 701.5,517.7 701.8,537.9 702.0,519.6 702.3,508.4 702.6,489.5 702.9,479.1 703.1,496.2 703.4,510.8 703.7,503.1 703.9,505.1 704.2,511.1 704.5,520.4 704.7,524.8 705.0,519.1 705.3,513.7 705.6,499.4 705.8,498.1 706.1,484.4 706.4,520.4 706.6,493.8 706.9,484.5 707.2,488.0 707.4,516.4 707.7,515.3 708.0,521.3 708.3,506.9 708.5,506.4 708.8,513.0 709.1,534.8 709.3,541.0 709.6,539.0 709.9,482.5 710.1,482.1 710.4,480.8 710.7,472.7 711.0,490.7 711.2,514.3 711.5,499.4 711.8,495.4 712.0,498.2 712.3,510.0 712.6,540.9 712.8,538.3 713.1,538.4 713.4,523.4 713.7,504.5 713.9,494.2 714.2,558.0 714.5,496.8 714.7,517.2 715.0,466.0 715.3,515.2 715.5,503.0 715.8,508.2 716.1,516.3 716.4,527.4 716.6,526.6 716.9,518.2 717.2,513.7 717.4,515.9 717.7,502.0 718.0,501.7 718.2,489.3 718.5,503.7 718.8,519.7 719.1,514.7 719.3,500.6 719.6,477.1 719.9,486.0 720.1,515.5 720.4,540.0 720.7,541.8 720.9,516.1 721.2,493.8 721.5,481.1 721.8,496.4 722.0,534.6 722.3,515.6 722.6,494.1 722.8,495.9 723.1,486.7 723.4,493.0 723.6,503.5 723.9,504.1 724.2,511.7 724.5,505.4 724.7,508.7 725.0,499.3 725.3,508.1 725.5,518.8 725.8,516.5 726.1,515.0 726.4,500.6 726.6,492.6 726.9,484.2 727.2,507.9 727.4,523.9 727.7,504.0 728.0,498.9 728.2,506.6 728.5,521.6 728.8,540.2 729.1,521.9 729.3,498.9 729.6,486.1 729.9,498.3 730.1,496.1 730.4,510.0 730.7,497.2 730.9,499.8 731.2,496.0 731.5,508.5 731.8,524.9 732.0,528.6 732.3,524.6 732.6,512.8 732.8,495.6 733.1,496.4 733.4,488.6 733.6,506.3 733.9,515.6 734.2,503.1 734.5,527.9 734.7,528.9 735.0,535.8 735.3,495.3 735.5,497.1 735.8,493.5 736.1,503.2 736.3,520.3 736.6,500.8 736.9,477.7 737.2,476.1 737.4,481.2 737.7,527.4 738.0,538.0 738.2,541.6 738.5,542.1 738.8,535.6 739.0,502.3 739.3,512.9 739.6,520.4 739.9,519.2 740.1,492.5 740.4,478.9 740.7,472.8 740.9,470.8 741.2,484.7 741.5,511.8 741.7,538.9 742.0,528.4 742.3,530.8 742.6,534.8 742.8,513.4 743.1,521.0 743.4,515.1 743.6,490.3 743.9,497.1 744.2,486.8 744.4,495.5 744.7,498.5 745.0,496.5 745.3,499.8 745.5,505.7 745.8,517.8 746.1,526.2 746.3,506.3 746.6,500.9 746.9,497.6 747.1,493.7 747.4,559.9 747.7,496.3 748.0,494.2 748.2,478.0 748.5,474.5 748.8,492.2 749.0,525.4 749.3,540.8 749.6,518.3 749.8,485.8 750.1,500.4 750.4,509.2 750.7,527.9 750.9,521.8 751.2,524.0 751.5,506.1 751.7,506.4 752.0,504.1 752.3,503.1 752.5,504.4 752.8,522.4 753.1,514.1 753.4,498.6 753.6,491.3 753.9,496.5 754.2,520.0 754.4,523.0 754.7,524.8 755.0,503.1 755.2,502.6 755.5,509.7 755.8,520.6 756.1,510.3 756.3,484.7 756.6,480.0 756.9,496.8 757.1,512.4 757.4,535.8 757.7,534.6 757.9,509.9 758.2,509.1 758.5,510.2 758.8,517.8 759.0,514.0 759.3,505.5 759.6,492.5 759.8,479.9 760.1,492.2 760.4,499.4 760.6,516.0 760.9,519.1 761.2,513.3 761.5,506.4 761.7,497.3 762.0,502.5 762.3,507.8 762.5,508.2 762.8,521.5 763.1,495.4 763.3,503.8 763.6,495.0 763.9,505.8 764.2,509.9 764.4,514.0 764.7,497.9 765.0,487.9 765.2,517.3 765.5,523.0 765.8,537.6 766.0,536.8 766.3,513.1 766.6,489.0 766.9,492.3 767.1,503.3 767.4,511.3 767.7,507.5 767.9,496.7 768.2,509.1 768.5,513.7 768.7,508.2 769.0,509.1 769.3,509.1 769.6,519.2 769.8,527.2 770.1,511.5 770.4,501.0 770.6,491.7 770.9,484.4 771.2,490.5 771.4,509.5 771.7,534.4 772.0,526.0 772.3,501.2 772.5,506.8 772.8,506.2 773.1,512.0 773.3,517.4 773.6,517.7 773.9,503.0 774.1,505.0 774.4,497.7 774.7,507.2 775.0,505.0 775.2,511.8 775.5,516.9 775.8,466.9 776.0,514.9 776.3,503.2 776.6,516.4 776.8,535.3 777.1,529.8 777.4,496.2 777.7,481.6 777.9,472.2 778.2,516.8 778.5,529.4 778.7,524.4 779.0,522.6 779.3,508.0 779.5,504.9 779.8,490.7 780.1,497.7 780.4,494.7 780.6,502.4 780.9,525.7 781.2,516.6 781.4,508.5 781.7,499.7 782.0,485.6 782.2,485.6 782.5,498.1 782.8,495.6 783.1,551.9 783.3,497.9 783.6,500.7 783.9,491.7 784.1,520.2 784.4,515.9 784.7,516.1 785.0,517.5 785.2,503.7 785.5,492.4 785.8,471.6 786.0,475.4 786.3,501.3 786.6,511.8 786.8,503.6 787.1,494.3 787.4,495.0 787.7,492.1 787.9,527.9 788.2,530.8 788.5,517.2 788.7,507.9 789.0,493.1 789.3,512.6 789.5,510.1 789.8,507.3 790.1,495.6 790.4,517.4 790.6,464.9 790.9,515.3 791.2,520.1 791.4,502.9 791.7,494.4 792.0,493.9 792.2,513.6 792.5,508.8 792.8,497.7 793.1,511.6 793.3,522.9 793.6,528.5 793.9,522.8 794.1,517.6 794.4,511.1 794.7,498.2 794.9,477.3 795.2,484.0 795.5,483.5 795.8,506.1 796.0,524.0 796.3,530.5 796.6,524.0 796.8,515.6 797.1,507.7 797.4,500.7 797.6,488.3 797.9,491.1 798.2,485.4 798.5,504.9 798.7,522.6 799.0,513.4 799.3,500.1 799.5,502.4 799.8,513.9 800.1,530.1 800.3,500.5 800.6,511.5 800.9,505.1 801.2,499.1 801.4,494.1 801.7,510.3 802.0,528.5 802.2,528.0 802.5,498.5 802.8,475.5 803.0,472.9 803.3,502.6 803.6,512.4 803.9,525.6 804.1,519.6 804.4,505.1 804.7,498.8 804.9,507.7 805.2,519.0 805.5,522.9 805.7,495.4 806.0,552.9 806.3,497.7 806.6,501.5 806.8,503.3 807.1,495.7 807.4,510.8 807.6,514.8 807.9,513.8 808.2,514.8 808.4,508.0 808.7,513.8 809.0,523.3 809.3,509.6 809.5,500.8 809.8,472.8 810.1,496.1 810.3,502.3 810.6,527.9 810.9,521.5 811.1,512.1 811.4,501.6 811.7,506.8 812.0,508.4 812.2,505.3 812.5,502.4 812.8,482.3 813.0,495.4 813.3,522.8 813.6,527.3 813.8,500.3 814.1,495.4 814.4,519.8 814.7,541.1 814.9,540.0 815.2,525.0 815.5,499.0 815.7,478.7 816.0,481.0 816.3,500.2 816.5,499.2 816.8,500.2 817.1,502.1 817.4,502.0 817.6,505.3 817.9,518.4 818.2,526.5 818.4,537.1 818.7,519.3 819.0,505.8 819.2,491.8 819.5,497.4 819.8,502.8 820.1,496.4 820.3,486.2 820.6,501.4 820.9,510.2 821.1,527.8 821.4,521.4 821.7,518.9 821.9,512.0 822.2,504.6 822.5,504.2 822.8,500.4 823.0,493.5 823.3,499.4 823.6,507.6 823.8,510.8 824.1,507.2 824.4,505.8 824.6,514.4 824.9,524.0 825.2,522.8 825.5,511.2 825.7,502.6 826.0,485.0 826.3,495.6 826.5,504.5 826.8,523.4 827.1,495.5 827.3,500.7 827.6,502.6 827.9,513.9 828.2,518.0 828.4,513.9 828.7,505.1 829.0,498.5 829.2,509.0 829.5,511.8 829.8,506.5 830.0,500.0 830.3,506.5 830.6,511.4 830.9,511.5 831.1,506.8 831.4,505.3 831.7,501.2 831.9,504.3 832.2,505.5 832.5,506.9 832.7,499.9 833.0,507.7 833.3,513.2 833.6,519.0 833.8,518.9 834.1,513.4 834.4,509.3 834.6,506.7 834.9,495.6 835.2,490.2 835.4,494.5 835.7,509.5 836.0,512.2 836.3,519.5 836.5,514.9 836.8,514.2 837.1,507.7 837.3,500.8 837.6,501.6 837.9,496.9 838.1,498.8 838.4,511.7 838.7,511.3 839.0,509.0 839.2,510.0 839.5,507.6 839.8,512.9 840.0,515.9 840.3,515.9 840.6,516.4 840.9,504.7 841.1,497.6 841.4,491.9 841.7,505.6 841.9,519.0 842.2,513.3 842.5,511.9 842.7,508.7 843.0,503.4 843.3,494.9 843.6,490.5 843.8,498.8 844.1,502.2 844.4,523.1 844.6,521.8 844.9,509.1 845.2,491.2 845.4,487.9 845.7,493.8 846.0,509.1 846.3,521.5 846.5,515.2 846.8,504.4 847.1,498.7 847.3,502.9 847.6,510.1 847.9,506.2 848.1,514.7 848.4,509.4 848.7,500.1 849.0,500.3 849.2,497.4 849.5,508.1 849.8,512.1 850.0,516.7 850.3,478.7 850.6,476.3 850.8,498.4 851.1,529.8 851.4,539.6 851.7,520.8 851.9,509.1 852.2,495.1 852.5,488.0 852.7,489.2 853.0,502.5 853.3,512.9 853.5,509.1 853.8,517.3 854.1,464.8 854.4,496.3 854.6,548.8 854.9,498.4 855.2,518.8 855.4,527.1 855.7,535.6 856.0,503.7 856.2,472.7 856.5,470.4 856.8,487.2 857.1,497.8 857.3,529.6 857.6,519.7 857.9,500.4 858.1,470.9 858.4,472.0 858.7,473.3 858.9,483.3 859.2,496.3 859.5,501.3 859.8,511.5 860.0,530.8 860.3,535.3 860.6,527.2 860.8,514.1 861.1,516.4 861.4,518.2 861.6,517.3 861.9,506.6 862.2,483.3 862.5,501.9 862.7,515.1 863.0,519.0 863.3,491.9 863.5,471.1 863.8,482.2 864.1,520.2 864.3,543.5 864.6,541.3 864.9,522.8 865.2,496.2 865.4,471.3 865.7,485.5 866.0,531.4 866.2,521.1 866.5,492.0 866.8,492.5 867.0,484.1 867.3,489.5 867.6,509.6 867.9,505.3 868.1,525.8 868.4,513.1 868.7,504.4 868.9,508.2 869.2,507.1 869.5,523.0 869.7,532.5 870.0,523.8 870.3,504.2 870.6,476.5 870.8,482.5 871.1,510.4 871.4,519.8 871.6,506.9 871.9,493.2 872.2,511.6 872.4,540.8 872.7,542.1 873.0,528.3 873.3,498.1 873.5,481.0 873.8,492.8 874.1,500.3 874.3,509.1 874.6,498.1 874.9,490.2 875.1,498.0 875.4,512.9 875.7,524.4 876.0,529.7 876.2,530.6 876.5,517.4 876.8,490.7 877.0,496.5 877.3,500.2 877.6,512.8 877.8,513.3 878.1,503.2 878.4,501.2 878.7,494.8 878.9,513.1 879.2,504.7 879.5,503.2 879.7,505.5 880.0,496.2 880.3,485.1 880.5,496.7 880.8,511.0 881.1,530.5 881.4,533.1 881.6,533.8 881.9,481.6 882.2,480.9 882.4,513.3 882.7,502.3 883.0,485.4 883.2,495.1 883.5,501.7 883.8,495.8 884.1,493.4 884.3,484.3 884.6,499.5 884.9,508.0 885.1,527.6 885.4,517.3 885.7,508.4 885.9,501.1 886.2,505.3 886.5,508.4 886.8,511.9 887.0,489.9 887.3,482.3 887.6,473.9 887.8,495.2 888.1,529.0 888.4,536.4 888.6,533.5 888.9,512.7 889.2,493.0 889.5,485.8 889.7,494.7 890.0,503.8 890.3,504.4 890.5,500.6 890.8,503.4 891.1,506.2 891.3,517.0 891.6,523.8 891.9,520.7 892.2,506.5 892.4,501.6 892.7,502.5 893.0,482.2 893.2,476.3 893.5,479.2 893.8,506.5 894.0,536.0 894.3,539.3 894.6,521.1 894.9,483.0 895.1,471.4 895.4,501.9 895.7,519.0 895.9,513.2 896.2,496.9 896.5,495.2 896.7,525.2 897.0,546.2 897.3,542.5 897.6,522.8 897.8,490.9 898.1,468.4 898.4,470.7 898.6,489.5 898.9,515.8 899.2,522.8 899.5,523.7 899.7,506.2 900.0,508.0 900.3,496.5 900.5,547.7 900.8,498.5 901.1,513.6 901.3,475.8 901.6,472.1 901.9,471.9 902.2,514.5 902.4,526.5 902.7,532.9 903.0,518.3 903.2,489.5 903.5,495.8 903.8,513.4 904.0,513.3 904.3,488.1 904.6,471.7 904.9,474.2 905.1,498.8 905.4,524.3 905.7,542.9 905.9,542.5 906.2,517.9 906.5,514.0 906.7,492.2 907.0,500.5 907.3,501.5 907.6,513.6 907.8,495.6 908.1,474.8 908.4,473.2 908.6,493.3 908.9,530.5 909.2,543.0 909.4,525.3 909.7,507.5 910.0,480.7 910.3,484.7 910.5,497.0 910.8,515.5 911.1,513.0 911.3,503.6 911.6,507.8 911.9,513.4 912.1,518.0 912.4,509.8 912.7,511.2 913.0,505.8 913.2,496.7 913.5,488.4 913.8,505.7 914.0,501.9 914.3,499.6 914.6,507.7 914.8,506.0 915.1,503.6 915.4,521.3 915.7,538.0 915.9,500.0 916.2,503.7 916.5,513.5 916.7,509.6 917.0,487.2 917.3,493.5 917.5,509.7 917.8,524.3 918.1,530.2 918.4,500.0 918.6,479.4 918.9,477.7 919.2,496.9 919.4,514.9 919.7,526.5 920.0,522.5 920.2,502.0 920.5,497.1 920.8,505.7 921.1,509.1 921.3,524.4 921.6,524.6 921.9,497.0 922.1,545.7 922.4,498.9 922.7,498.4 922.9,501.6 923.2,507.9 923.5,519.4 923.8,509.6 924.0,508.0 924.3,503.0 924.6,512.6 924.8,519.7 925.1,513.4 925.4,500.8 925.6,478.3 925.9,487.3 926.2,509.7 926.5,520.8 926.7,522.4 927.0,517.5 927.3,503.6 927.5,507.1 927.8,519.8 928.1,508.5 928.3,497.4 928.6,486.0 928.9,504.1 929.2,516.3 929.4,527.6 929.7,492.6 930.0,494.2 930.2,516.1 930.5,539.3 930.8,534.2 931.0,528.0 931.3,506.0 931.6,478.2 931.9,475.6 932.1,486.4 932.4,506.0 932.7,500.0 932.9,500.8 933.2,499.3 933.5,504.2 933.7,515.0 934.0,529.4 934.3,532.2 934.6,525.9 934.8,509.7 935.1,490.2 935.4,494.3 935.6,495.1 935.9,490.0 936.2,475.5 936.4,496.6 936.7,514.4 937.0,533.6 937.3,531.9 937.5,523.2 937.8,506.8 938.1,509.3 938.3,501.3 938.6,499.6 938.9,481.1 939.1,500.2 939.4,503.5 939.7,511.3 940.0,505.6 940.2,502.4 940.5,511.1 940.8,532.8 941.0,516.2 941.3,468.7 941.6,514.3 941.8,474.6 942.1,493.2 942.4,510.4 942.7,534.1 942.9,517.7 943.2,504.6 943.5,495.2 943.7,489.7 944.0,508.3 944.3,507.9 944.5,529.6 944.8,520.8 945.1,499.7 945.4,495.8 945.6,510.9 945.9,506.8 946.2,495.0 946.4,503.6 946.7,495.9 947.0,492.7 947.2,494.1 947.5,489.3 947.8,501.0 948.1,520.8 948.3,532.3 948.6,533.0 948.9,501.6 949.1,478.0 949.4,488.6 949.7,496.8 949.9,512.5 950.2,516.2 950.5,468.7 950.8,514.3 951.0,500.3 951.3,512.7 951.6,522.0 951.8,510.7 952.1,501.7 952.4,485.5 952.6,489.5 952.9,510.0 953.2,503.0 953.5,493.2 953.7,490.0 954.0,500.3 954.3,519.2 954.5,532.1 954.8,512.5 955.1,505.9 955.4,498.6 955.6,509.7 955.9,511.7 956.2,501.0 956.4,488.1 956.7,495.7 957.0,508.2 957.2,518.6 957.5,504.3 957.8,494.4 958.1,488.0 958.3,504.1 958.6,513.8 958.9,519.1 959.1,520.8 959.4,516.2 959.7,497.6 959.9,493.7 960.2,503.8 960.5,523.4 960.8,531.8 961.0,523.1 961.3,498.3 961.6,487.3 961.8,485.0 962.1,489.3 962.4,502.1 962.6,509.3 962.9,503.9 963.2,514.4 963.5,517.6 963.7,511.7 964.0,517.7 964.3,508.7 964.5,503.2 964.8,500.1 965.1,486.6 965.3,477.4 965.6,485.6 965.9,501.2 966.2,513.1 966.4,532.2 966.7,528.5 967.0,514.1 967.2,518.2 967.5,518.4 967.8,504.7 968.0,485.0 968.3,471.5 968.6,480.6 968.9,490.9 969.1,508.7 969.4,508.0 969.7,515.5 969.9,520.9 970.2,514.8 970.5,522.1 970.7,519.1 971.0,529.6 971.3,509.4 971.6,496.7 971.8,478.5 972.1,507.1 972.4,503.4 972.6,501.0 972.9,517.5 973.2,507.8 973.4,493.6 973.7,480.7 974.0,484.2 974.3,499.9 974.5,515.1 974.8,521.4 975.1,529.6 975.3,533.2 975.6,540.0 975.9,539.9 976.1,534.3 976.4,499.5 976.7,479.8 977.0,472.5 977.2,483.0 977.5,473.4 977.8,475.5 978.0,474.4 978.3,523.6 978.6,540.9 978.8,542.1 979.1,540.8 979.4,510.4 979.7,476.5 979.9,484.5 980.2,506.8 980.5,515.5 980.7,489.4 981.0,478.8 981.3,476.4 981.5,494.6 981.8,523.9 982.1,537.4 982.4,536.0 982.6,519.0 982.9,512.1 983.2,502.7 983.4,486.1 983.7,478.0 984.0,476.6 984.2,510.9 984.5,536.4 984.8,523.2 985.1,499.4 985.3,492.5 985.6,506.3 985.9,519.0 986.1,530.4 986.4,499.0 986.7,493.5 986.9,482.7 987.2,497.4 987.5,504.7 987.8,487.7 988.0,478.3 988.3,482.7 988.6,505.6 988.8,525.4 989.1,530.1 989.4,517.1 989.6,510.8 989.9,516.3 990.2,524.7 990.5,517.6 990.7,488.1 991.0,473.0 991.3,476.3 991.5,492.7 991.8,513.1 992.1,508.5 992.3,512.6 992.6,513.1 992.9,509.7 993.2,497.3 993.4,502.2 993.7,490.4 994.0,504.1 994.2,495.1 994.5,488.3 994.8,486.3 995.0,481.3 995.3,540.4 995.6,535.9 995.9,537.4 996.1,520.4 996.4,498.4 996.7,539.6 996.9,500.0 997.2,499.5 997.5,510.4 997.7,509.1 998.0,506.7 998.3,503.7 998.6,507.0 998.8,510.9 999.1,515.1 999.4,509.4 999.6,499.7 999.9,496.1 1000.2,494.5 1000.4,520.4 1000.7,526.0 1001.0,534.3 1001.3,516.6 1001.5,511.0 1001.8,497.1 1002.1,497.6 1002.3,498.4 1002.6,507.0 1002.9,501.7 1003.1,502.5 1003.4,486.8 1003.7,495.3 1004.0,517.3 1004.2,537.1 1004.5,526.9 1004.8,503.8 1005.0,501.8 1005.3,498.4 1005.6,513.6 1005.8,514.5 1006.1,481.2 1006.4,489.4 1006.7,504.3 1006.9,514.9 1007.2,515.7 1007.5,510.2 1007.7,495.2 1008.0,496.9 1008.3,507.7 1008.5,509.9 1008.8,513.5 1009.1,506.9 1009.4,504.3 1009.6,488.9 1009.9,492.3 1010.2,497.3 1010.4,500.9 1010.7,513.3 1011.0,513.5 1011.2,498.0 1011.5,486.7 1011.8,505.9 1012.1,520.5 1012.3,541.5 1012.6,540.2 1012.9,514.6 1013.1,486.8 1013.4,475.6 1013.7,498.0 1014.0,515.0 1014.2,510.0 1014.5,507.4 1014.8,494.6 1015.0,499.9 1015.3,514.7 1015.6,520.3 1015.8,514.9 1016.1,510.1 1016.4,518.4 1016.7,526.9 1016.9,519.4 1017.2,505.3 1017.5,508.7 1017.7,497.4 1018.0,495.7 1018.3,486.7 1018.5,475.8 1018.8,480.0 1019.1,478.6 1019.4,500.1 1019.6,520.5 1019.9,539.8 1020.2,541.2 1020.4,533.8 1020.7,521.3 1021.0,500.3 1021.2,497.3 1021.5,507.5 1021.8,509.5 1022.1,495.9 1022.3,475.6 1022.6,471.5 1022.9,479.3 1023.1,477.8 1023.4,533.7 1023.7,518.9 1023.9,526.7 1024.2,513.3 1024.5,495.9 1024.8,490.7 1025.0,510.8 1025.3,521.1 1025.6,525.2 1025.8,514.3 1026.1,498.0 1026.4,480.7 1026.6,475.2 1026.9,504.2 1027.2,530.4 1027.5,530.6 1027.7,515.1 1028.0,488.7 1028.3,496.9 1028.5,508.4 1028.8,518.7 1029.1,497.8 1029.3,491.8 1029.6,489.5 1029.9,495.6 1030.2,493.4 1030.4,494.8 1030.7,514.3 1031.0,522.5 1031.2,538.0 1031.5,517.0 1031.8,495.2 1032.0,488.5 1032.3,533.9 1032.6,533.8 1032.9,501.8 1033.1,473.8 1033.4,470.2 1033.7,485.2 1033.9,516.0 1034.2,524.0 1034.5,509.1 1034.7,508.8 1035.0,525.0 1035.3,542.4 1035.6,540.9 1035.8,524.2 1036.1,484.9 1036.4,472.9 1036.6,476.8 1036.9,500.8 1037.2,534.7 1037.4,532.8 1037.7,512.5 1038.0,491.1 1038.3,498.5 1038.5,510.3 1038.8,502.9 1039.1,500.5 1039.3,494.5 1039.6,499.5 1039.9,498.6 1040.1,496.4 1040.4,507.3 1040.7,511.6 1041.0,510.1 1041.2,518.7 1041.5,515.5 1041.8,501.1 1042.0,506.1 1042.3,518.2 1042.6,514.4 1042.8,501.6 1043.1,491.9 1043.4,486.7 1043.7,509.0 1043.9,521.9 1044.2,536.7 1044.5,520.6 1044.7,496.8 1045.0,475.1 1045.3,473.3 1045.5,497.2 1045.8,507.2 1046.1,517.0 1046.4,496.5 1046.6,488.7 1046.9,503.1 1047.2,523.3 1047.4,539.3 1047.7,541.1 1048.0,521.8 1048.2,494.3 1048.5,475.2 1048.8,480.9 1049.1,484.5 1049.3,513.2 1049.6,516.6 1049.9,504.3 1050.1,492.4 1050.4,520.1 1050.7,534.3 1050.9,527.7 1051.2,505.4 1051.5,476.3 1051.8,484.3 1052.0,514.9 1052.3,530.9 1052.6,540.6 1052.8,524.8 1053.1,503.8 1053.4,510.2 1053.6,504.9 1053.9,492.5 1054.2,477.5 1054.5,487.7 1054.7,502.2 1055.0,504.6 1055.3,514.2 1055.5,511.7 1055.8,514.0 1056.1,522.5 1056.3,527.5 1056.6,521.4 1056.9,498.6 1057.2,484.3 1057.4,479.0 1057.7,481.5 1058.0,507.3 1058.2,533.3 1058.5,525.4 1058.8,515.2 1059.0,499.9 1059.3,505.0 1059.6,508.5 1059.9,513.5 1060.1,500.1 1060.4,492.1 1060.7,486.0 1060.9,493.8 1061.2,511.1 1061.5,515.8 1061.7,469.6 1062.0,497.3 1062.3,543.6 1062.6,499.2 1062.8,524.2 1063.1,507.9 1063.4,489.9 1063.6,486.3 1063.9,500.1 1064.2,514.4 1064.4,517.2 1064.7,506.2 1065.0,498.1 1065.3,510.5 1065.5,526.0 1065.8,517.2 1066.1,499.4 1066.3,491.6 1066.6,508.7 1066.9,516.4 1067.1,524.5 1067.4,495.9 1067.7,511.9 1068.0,518.6 1068.2,522.9 1068.5,492.7 1068.8,480.2 1069.0,472.2 1069.3,494.1 1069.6,530.5 1069.9,536.6 1070.1,539.5 1070.4,521.3 1070.7,497.9 1070.9,506.1 1071.2,515.1 1071.5,514.3 1071.7,480.2 1072.0,471.0 1072.3,474.7 1072.6,497.4 1072.8,522.0 1073.1,522.6 1073.4,499.0 1073.6,500.0 1073.9,517.8 1074.2,527.9 1074.4,528.0 1074.7,511.8 1075.0,500.9 1075.3,502.7 1075.5,491.7 1075.8,493.4 1076.1,490.4 1076.3,501.8 1076.6,509.9 1076.9,513.8 1077.1,505.9 1077.4,497.7 1077.7,512.6 1078.0,519.8 1078.2,534.6 1078.5,500.8 1078.8,489.4 1079.0,488.6 1079.3,499.2 1079.6,510.4 1079.8,516.7 1080.1,501.0 1080.4,498.7 1080.7,507.4 1080.9,518.7 1081.2,529.5 1081.5,518.5 1081.7,514.1 1082.0,515.6 1082.3,501.9 1082.5,493.2 1082.8,483.9 1083.1,489.8 1083.4,510.7 1083.6,520.5 1083.9,528.2 1084.2,518.3 1084.4,459.5 1084.7,515.9 1085.0,494.6 1085.2,490.2 1085.5,488.3 1085.8,499.1 1086.1,496.3 1086.3,547.5 1086.6,498.3 1086.9,509.1 1087.1,511.3 1087.4,517.0 1087.7,513.5 1087.9,512.8 1088.2,500.8 1088.5,497.0 1088.8,515.0 1089.0,518.4 1089.3,514.1 1089.6,494.3 1089.8,501.7 1090.1,512.2 1090.4,513.3 1090.6,492.9 1090.9,478.3 1091.2,481.2 1091.5,518.1 1091.7,523.0 1092.0,522.6 1092.3,506.5 1092.5,502.2 1092.8,508.1 1093.1,526.4 1093.3,541.8 1093.6,540.6 1093.9,482.7 1094.2,474.9 1094.4,475.8 1094.7,478.7 1095.0,489.4 1095.2,512.0 1095.5,503.1 1095.8,496.8 1096.0,497.5 1096.3,522.1 1096.6,535.5 1096.9,532.9 1097.1,541.6 1097.4,526.5 1097.7,505.6 1097.9,481.7 1098.2,480.9 1098.5,472.5 1098.7,482.6 1099.0,490.7 1099.3,496.1 1099.6,505.3 1099.8,508.2 1100.1,519.1 1100.4,517.8 1100.6,522.0 1100.9,513.0 1101.2,510.2 1101.4,512.2 1101.7,511.6 1102.0,496.0 1102.3,494.1 1102.5,499.9 1102.8,517.8 1103.1,518.2 1103.3,494.8 1103.6,486.3 1103.9,479.8 1104.1,518.1 1104.4,513.2 1104.7,515.1 1105.0,494.9 1105.2,491.6 1105.5,494.9 1105.8,512.2 1106.0,513.2 1106.3,514.2 1106.6,506.2 1106.8,498.7 1107.1,491.5 1107.4,508.1 1107.7,522.6 1107.9,533.3 1108.2,511.4 1108.5,495.2 1108.7,471.9 1109.0,480.7 1109.3,511.9 1109.5,539.0 1109.8,535.1 1110.1,494.3 1110.4,490.6 1110.6,487.1 1110.9,485.3 1111.2,500.5 1111.4,510.2 1111.7,519.6 1112.0,522.8 1112.2,522.2 1112.5,498.7 1112.8,477.6 1113.1,488.6 1113.3,501.4 1113.6,521.5 1113.9,527.3 1114.1,530.2 1114.4,510.9 1114.7,500.6 1114.9,503.9 1115.2,513.0 1115.5,514.3 1115.8,510.8 1116.0,500.2 1116.3,476.3 1116.6,499.7 1116.8,504.7 1117.1,498.3 1117.4,520.0 1117.6,525.6 1117.9,533.1 1118.2,510.5 1118.5,506.8 1118.7,487.3 1119.0,475.8 1119.3,477.4 1119.5,495.4 1119.8,495.8 1120.1,517.4 1120.3,523.1 1120.6,529.4 1120.9,516.1 1121.2,508.0 1121.4,497.3 1121.7,509.7 1122.0,508.4 1122.2,511.6 1122.5,491.4 1122.8,476.8 1123.0,475.4 1123.3,505.2 1123.6,512.6 1123.9,532.0 1124.1,525.8 1124.4,528.4 1124.7,534.6 1124.9,540.7 1125.2,527.8 1125.5,506.3 1125.7,475.0 1126.0,473.4 1126.3,487.2 1126.6,473.9 1126.8,478.5 1127.1,475.9 1127.4,517.1 1127.6,539.6 1127.9,542.9 1128.2,531.6 1128.5,510.7 1128.7,477.4 1129.0,480.7 1129.3,504.6 1129.5,528.6 1129.8,492.5 1130.1,471.9 1130.3,470.9 1130.6,491.6 1130.9,524.8 1131.2,538.9 1131.4,527.4 1131.7,527.0 1132.0,512.5 1132.2,498.8 1132.5,483.1 1132.8,474.0 1133.0,483.6 1133.3,507.9 1133.6,532.4 1133.9,524.8 1134.1,511.3 1134.4,490.1 1134.7,515.2 1134.9,522.4 1135.2,520.1 1135.5,511.4 1135.7,497.0 1136.0,506.6 1136.3,508.0 1136.6,509.9 1136.8,505.6 1137.1,497.5 1137.4,492.3 1137.6,506.6 1137.9,511.6 1138.2,509.9 1138.4,492.8 1138.7,489.1 1139.0,512.4 1139.3,523.5 1139.5,540.0 1139.8,534.1 1140.1,501.8 1140.3,486.5 1140.6,486.0 1140.9,507.0 1141.1,503.5 1141.4,498.4 1141.7,499.2 1142.0,511.8 1142.2,515.0 1142.5,504.8 1142.8,510.4 1143.0,508.2 1143.3,519.0 1143.6,533.1 1143.8,512.3 1144.1,506.7 1144.4,493.6 1144.7,477.2 1144.9,485.3 1145.2,514.1 1145.5,521.4 1145.7,528.0 1146.0,504.4 1146.3,500.2 1146.5,502.9 1146.8,508.5 1147.1,512.8 1147.4,511.2 1147.6,500.4 1147.9,503.7 1148.2,500.4 1148.4,513.7 1148.7,513.0 1149.0,515.8 1149.2,512.6 1149.5,494.2 1149.8,484.0 1150.1,501.3 1150.3,515.3 1150.6,538.4 1150.9,536.3 1151.1,500.9 1151.4,474.3 1151.7,472.7 1151.9,515.5 1152.2,522.8 1152.5,526.0 1152.8,520.6 1153.0,518.0 1153.3,504.8 1153.6,497.8 1153.8,495.6 1154.1,492.3 1154.4,508.5 1154.6,535.3 1154.9,522.2 1155.2,508.1 1155.5,496.2 1155.7,487.1 1156.0,498.9 1156.3,497.2 1156.5,511.2 1156.8,519.3 1157.1,504.7 1157.3,499.5 1157.6,495.0 1157.9,519.0 1158.2,526.0 1158.4,520.0 1158.7,511.6 1159.0,511.4 1159.2,498.8 1159.5,495.0 1159.8,485.5 1160.0,498.6 1160.3,499.3 1160.6,520.8 1160.9,519.8 1161.1,529.3 1161.4,518.0 1161.7,505.0 1161.9,505.9 1162.2,486.2 1162.5,485.5 1162.7,493.1 1163.0,503.2 1163.3,513.4 1163.6,505.3 1163.8,505.4 1164.1,521.7 1164.4,514.2 1164.6,515.6 1164.9,500.1 1165.2,497.7 1165.4,501.6 1165.7,511.7 1166.0,517.2 1166.3,506.9 1166.5,500.8 1166.8,507.3 1167.1,519.4 1167.3,507.4 1167.6,484.9 1167.9,483.4 1168.1,488.1 1168.4,520.1 1168.7,521.3 1169.0,514.0 1169.2,516.0 1169.5,501.0 1169.8,504.3 1170.0,535.8 1170.3,554.1 1170.6,544.2 1170.8,477.2 1171.1,473.5 1171.4,458.3 1171.7,476.3 1171.9,493.0 1172.2,515.6 1172.5,508.9 1172.7,503.0 1173.0,499.4 1173.3,525.1 1173.5,540.2 1173.8,543.3 1174.1,540.0 1174.4,515.9 1174.6,494.2 1174.9,482.3 1175.2,476.9 1175.4,477.5 1175.7,485.8 1176.0,483.1 1176.2,489.5 1176.5,504.3 1176.8,512.4 1177.1,517.1 1177.3,521.7 1177.6,515.6 1177.9,514.9 1178.1,512.3 1178.4,515.3 1178.7,515.1 1178.9,495.8 1179.2,491.8 1179.5,503.1 1179.8,516.7 1180.0,521.3 1180.3,499.5 1180.6,483.0 1180.8,488.0 1181.1,514.2 1181.4,541.0 1181.6,541.8 1181.9,522.3 1182.2,501.6 1182.5,492.5 1182.7,491.1 1183.0,521.7 1183.3,509.7 1183.5,499.9 1183.8,491.9 1184.1,498.0 1184.4,498.4 1184.6,498.8 1184.9,508.6 1185.2,516.2 1185.4,518.8 1185.7,510.5 1186.0,502.5 1186.2,502.9 1186.5,516.0 1186.8,519.7 1187.1,513.3 1187.3,495.4 1187.6,494.3 1187.9,488.5 1188.1,506.4 1188.4,518.4 1188.7,503.7 1188.9,502.5 1189.2,501.5 1189.5,527.4 1189.8,528.5 1190.0,513.2 1190.3,494.0 1190.6,484.6 1190.8,492.6 1191.1,497.8 1191.4,512.1 1191.6,495.6 1191.9,498.6 1192.2,499.7 1192.5,509.0 1192.7,520.9 1193.0,529.0 1193.3,523.4 1193.5,516.9 1193.8,493.0 1194.1,492.3 1194.3,498.8 1194.6,505.0 1194.9,516.7 1195.2,506.3 1195.4,499.4 1195.7,501.7 1196.0,505.3 1196.2,495.5 1196.5,504.7 1196.8,503.5 1197.0,500.6 1197.3,493.2 1197.6,493.4 1197.9,514.1 1198.1,531.9 1198.4,534.2 1198.7,529.1 1198.9,482.4 1199.2,473.6 1199.5,480.4 1199.7,499.3 1200.0,499.0 1200.3,499.7 1200.6,493.8 1200.8,503.7 1201.1,519.2 1201.4,522.6 1201.6,518.8 1201.9,523.7 1202.2,522.1 1202.4,513.8 1202.7,515.7 1203.0,501.6 1203.3,503.9 1203.5,520.3 1203.8,508.6 1204.1,491.4 1204.3,485.9 1204.6,483.3 1204.9,502.0 1205.1,510.3 1205.4,525.3 1205.7,515.0 1206.0,527.8 1206.2,534.7 1206.5,544.3 1206.8,532.3 1207.0,497.2 1207.3,472.1 1207.6,474.2 1207.8,486.5 1208.1,486.9 1208.4,476.1 1208.7,476.5 1208.9,514.2 1209.2,552.1 1209.5,578.9 1209.7,538.1 1210.0,499.6 1210.3,471.8 1210.5,490.9 1210.8,506.6 1211.1,514.2 1211.4,496.8 1211.6,477.4 1211.9,476.6 1212.2,494.5 1212.4,511.8 1212.7,535.2 1213.0,523.8 1213.2,515.7 1213.5,516.1 1213.8,505.9 1214.1,491.4 1214.3,484.7 1214.6,485.7 1214.9,506.0 1215.1,533.6 1215.4,517.6 1215.7,507.3 1215.9,502.3 1216.2,508.6 1216.5,522.2 1216.8,522.7 1217.0,503.0 1217.3,491.2 1217.6,492.1 1217.8,494.7 1218.1,506.3 1218.4,491.5 1218.6,483.3 1218.9,479.8 1219.2,498.1 1219.5,525.3 1219.7,529.9 1220.0,525.0 1220.3,508.4 1220.5,514.0 1220.8,512.1 1221.1,503.5 1221.3,490.2 1221.6,483.1 1221.9,485.6 1222.2,496.8 1222.4,505.4 1222.7,511.4 1223.0,511.0 1223.2,509.3 1223.5,515.8 1223.8,521.2 1224.0,514.0 1224.3,515.7 1224.6,512.8 1224.9,497.0 1225.1,503.7 1225.4,503.4 1225.7,503.6 1225.9,515.4 1226.2,505.6 1226.5,505.0 1226.7,499.2 1227.0,504.0 1227.3,518.3 1227.6,523.8 1227.8,504.6 1228.1,487.8 1228.4,475.0 1228.6,490.6 1228.9,517.6 1229.2,521.2 1229.4,530.0 1229.7,513.9 1230.0,500.2 1230.3,510.1 1230.5,513.3 1230.8,523.3 1231.1,508.6 1231.3,495.5 1231.6,478.5 1231.9,471.4 1232.1,499.4 1232.4,514.1 1232.7,543.6 1233.0,552.0 1233.2,520.5 1233.5,507.2 1233.8,499.1 1234.0,510.0 1234.3,513.7 1234.6,496.1 1234.8,477.1 1235.1,486.4 1235.4,512.2 1235.7,540.1 1235.9,527.3 1236.2,500.6 1236.5,474.7 1236.7,473.6 1237.0,484.6 1237.3,509.7 1237.5,505.7 1237.8,503.6 1238.1,519.3 1238.4,531.7 1238.6,515.8 1238.9,508.8 1239.2,498.2 1239.4,493.5 1239.7,508.1 1240.0,513.6 1240.2,491.6 1240.5,482.8 1240.8,496.4 1241.1,513.7 1241.3,526.6 1241.6,540.9 1241.9,525.7 1242.1,505.3 1242.4,488.6 1242.7,484.2 1243.0,498.1 1243.2,509.6 1243.5,509.3 1243.8,504.4 1244.0,492.0 1244.3,508.1 1244.6,510.4 1244.8,520.3 1245.1,504.1 1245.4,502.1 1245.7,488.0 1245.9,491.1 1246.2,506.2 1246.5,505.4 1246.7,494.9 1247.0,482.4 1247.3,507.7 1247.5,514.9 1247.8,524.9 1248.1,516.8 1248.4,499.4 1248.6,499.6 1248.9,511.6 1249.2,516.1 1249.4,501.6 1249.7,500.4 1250.0,499.9 1250.2,516.3 1250.5,518.2 1250.8,509.2 1251.1,503.4 1251.3,493.1 1251.6,502.8 1251.9,511.4 1252.1,519.2 1252.4,515.8 1252.7,506.1 1252.9,499.1 1253.2,485.5 1253.5,496.4 1253.8,517.1 1254.0,538.3 1254.3,522.7 1254.6,494.9 1254.8,484.0 1255.1,490.5 1255.4,498.0 1255.6,507.5 1255.9,504.1 1256.2,502.2 1256.5,504.7 1256.7,520.5 1257.0,517.7 1257.3,515.1 1257.5,516.5 1257.8,509.3 1258.1,501.9 1258.3,490.5 1258.6,480.3 1258.9,480.1 1259.2,498.7 1259.4,520.2 1259.7,530.0 1260.0,525.4 1260.2,513.5 1260.5,518.0 1260.8,520.7 1261.0,509.1 1261.3,491.1 1261.6,474.5 1261.9,477.0 1262.1,484.4 1262.4,512.8 1262.7,514.2 1262.9,509.9 1263.2,511.2 1263.5,513.0 1263.7,513.5 1264.0,525.4 1264.3,529.9 1264.6,511.5 1264.8,495.3 1265.1,472.6 1265.4,478.3 1265.6,495.3 1265.9,520.3 1266.2,521.4 1266.4,497.3 1266.7,500.4 1267.0,523.6 1267.3,523.0 1267.5,510.1 1267.8,510.0 1268.1,494.3 1268.3,514.6 1268.6,515.4 1268.9,508.1 1269.1,500.0 1269.4,493.0 1269.7,503.4 1270.0,518.8 1270.2,530.1 1270.5,512.5 1270.8,504.9 1271.0,492.7 1271.3,498.3 1271.6,508.5 1271.8,508.8 1272.1,504.0 1272.4,498.9 1272.7,501.0 1272.9,519.2 1273.2,510.1 1273.5,511.8 1273.7,506.8 1274.0,506.3 1274.3,492.9 1274.5,492.3 1274.8,501.4 1275.1,504.3 1275.4,515.8 1275.6,499.9 1275.9,495.8 1276.2,491.0 1276.4,500.2 1276.7,510.6 1277.0,529.4 1277.2,529.0 1277.5,514.5 1277.8,477.0 1278.1,484.3 1278.3,504.5 1278.6,517.4 1278.9,513.4 1279.1,506.7 1279.4,499.3 1279.7,507.4 1279.9,517.3 1280.2,525.0 1280.5,518.3 1280.8,513.8 1281.0,509.0 1281.3,502.5 1281.6,485.5 1281.8,478.0 1282.1,501.5 1282.4,516.2 1282.6,516.8 1282.9,491.4 1283.2,489.9 1283.5,513.6 1283.7,551.4 1284.0,553.2 1284.3,535.4 1284.5,501.7 1284.8,492.7 1285.1,500.5 1285.3,508.8 1285.6,487.2 1285.9,467.6 1286.2,468.9 1286.4,495.6 1286.7,516.5 1287.0,551.3 1287.2,531.7 1287.5,514.8 1287.8,492.0 1288.0,487.8 1288.3,500.7 1288.6,523.2 1288.9,507.8 1289.1,506.5 1289.4,494.0 1289.7,506.5 1289.9,525.4 1290.2,525.1 1290.5,508.4 1290.7,480.2 1291.0,478.5 1291.3,501.8 1291.6,525.8 1291.8,507.1 1292.1,481.7 1292.4,489.0 1292.6,520.7 1292.9,557.9 1293.2,545.0 1293.4,505.6 1293.7,462.9 1294.0,474.6 1294.3,485.6 1294.5,505.2 1294.8,505.0 1295.1,506.6 1295.3,521.7 1295.6,545.9 1295.9,537.0 1296.1,541.1 1296.4,493.8 1296.7,485.4 1297.0,496.9 1297.2,504.8 1297.5,501.2" fill="none" stroke="#000" stroke-width="1.1"/>
<polyline points="325.6,505.7 327.2,508.3 328.8,507.7 330.5,507.2 332.1,507.7 333.7,506.6 335.3,508.8 336.9,507.9 338.6,506.2 340.2,507.6 341.8,507.6 343.4,508.1 345.0,507.8 346.7,505.2 348.3,505.9 349.9,506.9 351.5,506.5 353.1,507.3 354.8,507.5 356.4,506.5 358.0,508.9 359.6,506.4 361.2,507.1 362.9,508.7 364.5,511.1 366.1,505.7 367.7,507.3 369.3,508.1 371.0,506.7 372.6,507.3 374.2,508.9 375.8,507.1 377.4,506.8 379.1,507.3 380.7,506.4 382.3,505.6 383.9,506.8 385.6,506.8 387.2,507.3 388.8,506.2 390.4,507.4 392.0,507.8 393.7,505.6 395.3,505.1 396.9,508.5 398.5,508.1 400.1,505.8 401.8,507.1 403.4,506.0 405.0,507.1 406.6,507.3 408.2,507.3 409.9,508.8 411.5,509.3 413.1,507.5 414.7,508.8 416.3,507.2 418.0,508.5 419.6,507.2 421.2,507.5 422.8,506.4 424.4,508.2 426.1,508.5 427.7,507.5 429.3,506.8 430.9,507.4 432.5,508.2 434.2,508.1 435.8,508.2 437.4,506.7 439.0,506.5 440.6,505.9 442.3,506.0 443.9,505.8 445.5,506.9 447.1,506.5 448.7,505.5 450.4,507.2 452.0,507.8 453.6,508.8 455.2,506.8 456.8,505.6 458.5,508.1 460.1,506.4 461.7,507.0 463.3,509.9 464.9,507.3 466.6,508.0 468.2,506.9 469.8,508.0 471.4,506.3 473.0,510.3 474.7,508.2 476.3,506.9 477.9,508.6 479.5,506.7 481.1,506.6 482.8,506.6 484.4,507.3 486.0,509.3 487.6,507.5 489.2,507.6 490.9,506.6 492.5,507.4 494.1,507.1 495.7,505.9 497.4,507.7 499.0,506.7 500.6,507.6 502.2,505.5 503.8,506.6 505.5,507.9 507.1,506.9 508.7,507.8 510.3,507.2 511.9,507.8 513.6,508.0 515.2,506.8 516.8,508.4 518.4,508.3 520.0,507.4 521.7,507.5 523.3,506.4 524.9,506.3 526.5,507.3 528.1,507.6 529.8,508.4 531.4,507.3 533.0,504.1 534.6,507.4 536.2,508.2 537.9,506.4 539.5,505.5 541.1,507.4 542.7,508.1 544.3,507.2 546.0,506.0 547.6,506.8 549.2,506.5 550.8,508.1 552.4,508.7 554.1,508.8 555.7,507.8 557.3,506.3 558.9,506.6 560.5,506.6 562.2,506.9 563.8,507.2 565.4,508.4 567.0,507.1 568.6,507.3 570.3,507.1 571.9,504.6 573.5,507.7 575.1,507.6 576.7,507.5 578.4,505.2 580.0,507.4 581.6,507.6 583.2,505.7 584.8,507.8 586.5,507.4 588.1,506.1 589.7,508.3 591.3,507.1 592.9,507.8 594.6,509.4 596.2,506.5 597.8,506.9 599.4,508.6 601.0,507.2 602.7,506.9 604.3,507.9 605.9,505.8 607.5,508.5 609.1,506.4 610.8,506.1 612.4,509.7 614.0,507.2 615.6,506.7 617.3,506.7 618.9,508.2 620.5,507.7 622.1,507.3 623.7,507.6 625.4,507.9 627.0,506.6 628.6,507.7 630.2,506.6 631.8,507.0 633.5,507.0 635.1,507.9 636.7,506.7 638.3,508.3 639.9,507.8 641.6,507.3 643.2,507.2 644.8,506.6 646.4,508.7 648.0,506.8 649.7,507.0 651.3,507.6 652.9,506.0 654.5,509.6 656.1,507.7 657.8,506.7 659.4,508.3 661.0,505.9 662.6,506.2 664.2,507.1 665.9,506.7 667.5,507.2 669.1,507.2 670.7,507.4 672.3,506.0 674.0,507.3 675.6,506.2 677.2,506.9 678.8,506.7 680.4,506.5 682.1,506.5 683.7,506.9 685.3,508.7 686.9,505.5 688.5,506.2 690.2,506.6 691.8,505.5 693.4,505.7 695.0,505.5 696.6,507.0 698.3,506.2 699.9,507.3 701.5,506.9 703.1,508.0 704.7,507.5 706.4,506.6 708.0,509.7 709.6,506.8 711.2,505.6 712.8,507.6 714.5,505.6 716.1,506.5 717.7,508.8 719.3,507.5 720.9,507.0 722.6,505.0 724.2,505.6 725.8,507.0 727.4,508.3 729.1,507.4 730.7,507.0 732.3,507.1 733.9,508.1 735.5,506.5 737.2,508.3 738.8,509.3 740.4,506.3 742.0,507.0 743.6,507.5 745.3,504.8 746.9,507.1 748.5,507.3 750.1,508.2 751.7,508.5 753.4,507.6 755.0,506.2 756.6,507.5 758.2,507.2 759.8,506.5 761.5,506.0 763.1,506.2 764.7,508.4 766.3,507.6 767.9,506.7 769.6,506.3 771.2,507.5 772.8,508.0 774.4,506.3 776.0,506.4 777.7,507.9 779.3,506.3 780.9,504.7 782.5,505.8 784.1,505.7 785.8,504.7 787.4,504.8 789.0,507.6 790.6,506.6 792.2,508.7 793.9,506.5 795.5,507.3 797.1,506.7 798.7,506.0 800.3,508.2 802.0,505.3 803.6,507.0 805.2,508.9 806.8,508.6 808.4,506.5 810.1,507.1 811.7,506.7 813.3,508.6 814.9,508.1 816.5,506.5 818.2,507.4 819.8,507.9 821.4,506.6 823.0,507.2 824.6,506.6 826.3,507.1 827.9,506.9 829.5,507.6 831.1,506.5 832.7,507.5 834.4,506.9 836.0,506.5 837.6,507.4 839.2,507.5 840.9,507.8 842.5,505.4 844.1,505.3 845.7,506.6 847.3,506.7 849.0,505.1 850.6,506.6 852.2,506.2 853.8,506.4 855.4,505.5 857.1,502.9 858.7,504.8 860.3,508.1 861.9,507.7 863.5,507.0 865.2,506.3 866.8,504.6 868.4,507.7 870.0,507.5 871.6,508.3 873.3,506.9 874.9,506.6 876.5,507.7 878.1,505.8 879.7,506.5 881.4,505.8 883.0,504.1 884.6,504.8 886.2,505.0 887.8,505.8 889.5,507.1 891.1,506.2 892.7,507.1 894.3,505.0 895.9,509.5 897.6,507.1 899.2,507.3 900.8,507.8 902.4,506.4 904.0,506.8 905.7,506.6 907.3,506.9 908.9,504.7 910.5,508.3 912.1,506.7 913.8,506.4 915.4,507.0 917.0,507.4 918.6,506.0 920.2,506.8 921.9,506.6 923.5,506.7 925.1,507.3 926.7,506.7 928.3,507.0 930.0,507.7 931.6,506.0 933.2,506.0 934.8,505.8 936.4,506.2 938.1,507.5 939.7,507.1 941.3,508.1 942.9,506.4 944.5,506.5 946.2,505.1 947.8,504.8 949.4,506.4 951.0,505.1 952.6,505.2 954.3,506.3 955.9,507.3 957.5,506.1 959.1,507.4 960.8,506.2 962.4,506.8 964.0,505.2 965.6,506.7 967.2,505.4 968.9,505.8 970.5,507.7 972.1,506.0 973.7,506.9 975.3,508.0 977.0,506.2 978.6,504.2 980.2,506.5 981.8,506.4 983.4,508.3 985.1,505.6 986.7,503.2 988.3,505.0 989.9,505.9 991.5,505.3 993.2,504.4 994.8,506.4 996.4,507.8 998.0,506.1 999.6,508.3 1001.3,507.1 1002.9,506.9 1004.5,506.5 1006.1,506.1 1007.7,505.5 1009.4,505.2 1011.0,507.1 1012.6,507.2 1014.2,506.8 1015.8,508.6 1017.5,504.5 1019.1,506.4 1020.7,507.7 1022.3,504.5 1023.9,505.2 1025.6,506.6 1027.2,506.6 1028.8,505.6 1030.4,505.7 1032.0,506.1 1033.7,507.4 1035.3,507.4 1036.9,507.7 1038.5,506.2 1040.1,506.0 1041.8,506.4 1043.4,506.4 1045.0,504.8 1046.6,506.3 1048.2,506.6 1049.9,504.7 1051.5,508.8 1053.1,505.5 1054.7,506.2 1056.3,506.1 1058.0,506.6 1059.6,506.7 1061.2,508.3 1062.8,509.0 1064.4,506.9 1066.1,507.7 1067.7,504.9 1069.3,507.8 1070.9,506.4 1072.6,505.4 1074.2,507.5 1075.8,506.3 1077.4,505.7 1079.0,506.3 1080.7,507.6 1082.3,508.0 1083.9,505.4 1085.5,507.1 1087.1,507.0 1088.8,507.6 1090.4,506.5 1092.0,508.7 1093.6,505.8 1095.2,505.2 1096.9,507.3 1098.5,505.3 1100.1,505.8 1101.7,507.8 1103.3,505.2 1105.0,505.0 1106.6,506.8 1108.2,507.2 1109.8,504.3 1111.4,504.9 1113.1,507.9 1114.7,506.9 1116.3,507.0 1117.9,504.3 1119.5,506.3 1121.2,506.4 1122.8,506.4 1124.4,507.4 1126.0,505.7 1127.6,503.7 1129.3,506.0 1130.9,506.1 1132.5,508.4 1134.1,506.2 1135.7,506.6 1137.4,505.1 1139.0,506.6 1140.6,507.5 1142.2,507.2 1143.8,507.0 1145.5,506.0 1147.1,507.6 1148.7,506.3 1150.3,506.2 1151.9,508.3 1153.6,509.0 1155.2,506.0 1156.8,506.4 1158.4,506.5 1160.0,507.3 1161.7,506.3 1163.3,505.6 1164.9,507.3 1166.5,504.7 1168.1,506.0 1169.8,507.2 1171.4,505.2 1173.0,507.3 1174.6,505.5 1176.2,503.1 1177.9,507.2 1179.5,506.0 1181.1,507.4 1182.7,507.7 1184.4,505.9 1186.0,506.8 1187.6,505.9 1189.2,505.6 1190.8,505.5 1192.5,506.3 1194.1,507.3 1195.7,504.6 1197.3,506.6 1198.9,504.6 1200.6,505.0 1202.2,509.0 1203.8,506.4 1205.4,508.7 1207.0,505.4 1208.7,504.6 1210.3,506.7 1211.9,504.8 1213.5,506.3 1215.1,507.0 1216.8,506.7 1218.4,505.2 1220.0,505.2 1221.6,505.6 1223.2,506.3 1224.9,507.6 1226.5,506.0 1228.1,506.6 1229.7,506.5 1231.3,507.6 1233.0,506.9 1234.6,508.2 1236.2,503.6 1237.8,504.5 1239.4,506.2 1241.1,506.0 1242.7,507.1 1244.3,504.5 1245.9,504.9 1247.5,506.0 1249.2,507.8 1250.8,507.1 1252.4,506.8 1254.0,505.5 1255.6,506.9 1257.3,505.4 1258.9,506.9 1260.5,505.1 1262.1,505.3 1263.7,506.0 1265.4,506.4 1267.0,507.0 1268.6,508.2 1270.2,506.7 1271.8,506.9 1273.5,505.6 1275.1,504.7 1276.7,505.5 1278.3,507.2 1279.9,507.5 1281.6,505.8 1283.2,507.7 1284.8,505.8 1286.4,504.3 1288.0,507.7 1289.7,505.2 1291.3,507.1 1292.9,505.7 1294.5,509.7 1296.1,508.4" fill="none" stroke="#cfcf00" stroke-width="2.2" stroke-linejoin="round"/>
<polyline points="332.0,700.9 390.0,701.0 391.0,701.9 532.0,702.3 533.0,703.0 1303.5,709.1" fill="none" stroke="#ff0000" stroke-width="4.1" stroke-linecap="round"/>
<polyline points="325.4,747.4 327.0,748.5 328.1,757.1 330.2,761.5 332.9,740.4 335.1,737.2 337.8,756.6 339.9,755.5 343.2,731.3 345.9,769.0 348.0,786.8 349.6,779.8 352.9,732.3 354.5,734.5 357.2,751.8 358.8,744.7 361.0,743.7 363.7,757.7 366.9,746.4 369.1,752.8 371.8,766.8 373.9,760.4 378.8,727.0 380.4,732.3 383.6,771.7 385.2,773.3 387.9,745.3 390.1,746.4 392.8,759.8 394.9,758.2 397.6,746.4 399.8,744.7 404.6,759.3 409.5,731.8 411.6,745.3 414.3,780.9 416.0,775.5 419.2,720.5 420.8,717.8 423.5,758.2 426.2,772.2 427.8,766.8 432.1,741.0 434.3,738.3 435.9,739.9 439.6,775.7 444.9,730.1 446.9,733.4 450.2,755.2 452.2,755.9 454.8,742.6 456.2,745.3 459.5,767.1 464.1,754.5 469.4,730.1 472.1,740.0 475.4,775.7 477.3,774.4 480.7,750.6 484.0,734.7 485.9,731.4 487.9,741.3 490.6,759.8 493.2,753.9 496.5,759.8 499.2,756.5 501.8,742.7 503.1,744.0 506.5,763.8 509.8,745.3 511.7,748.6 513.1,759.2 514.4,757.2 517.7,728.7 519.7,732.7 522.3,761.8 525.0,761.2 527.6,744.6 529.6,755.9 532.9,797.6 534.2,787.6 536.9,728.1 539.3,702.3 541.5,721.5 544.2,755.2 546.8,742.6 548.8,744.6 552.8,783.7 555.4,785.6 560.7,726.1 563.4,722.1 565.3,726.8 570.0,747.9 574.6,768.4 576.6,766.5 578.6,759.8 580.6,759.8 582.6,755.9 585.9,734.7 589.8,758.5 591.2,759.8 594.2,724.8 595.8,729.4 599.1,785.6 600.7,785.0 605.1,728.1 607.1,740.0 609.7,766.5 613.0,746.6 615.0,738.0 617.0,740.0 619.6,751.9 622.3,757.9 623.6,756.5 626.9,746.6 628.2,747.9 630.9,763.1 632.9,759.8 636.2,734.7 637.5,736.0 640.8,759.8 644.1,742.6 646.1,750.6 648.7,778.4 650.7,763.8 654.0,728.7 657.3,747.9 658.7,751.9 661.3,744.0 663.3,743.3 668.6,771.1 670.6,768.4 674.5,740.0 676.5,742.6 679.8,759.8 683.1,745.9 685.1,744.0 688.4,751.9 690.4,750.6 694.4,740.0 696.4,742.6 701.0,787.0 702.3,779.7 705.0,729.4 707.6,727.4 710.3,747.9 713.6,742.0 715.6,746.6 718.2,761.2 720.2,763.1 724.2,765.1 728.8,748.6 730.1,747.9 732.8,755.2 736.8,729.4 738.1,730.1 742.7,769.1 745.4,765.8 750.0,785.6 755.3,721.5 756.6,722.8 758.6,733.4 760.6,722.1 762.6,723.5 767.2,825.3 772.5,716.8 777.1,763.8 780.4,718.8 781.7,720.1 787.0,779.7 792.3,757.2 796.3,724.1 797.6,726.8 801.6,773.7 806.2,740.7 810.9,767.1 814.2,738.7 816.2,737.3 818.8,751.2 822.1,730.1 824.1,733.4 828.7,778.4 832.0,755.9 834.0,757.2 836.0,762.5 840.0,725.4 842.0,723.5 846.0,755.9 849.9,756.5 854.6,760.5 857.2,755.9 861.2,741.3 863.2,741.3 866.5,753.2 871.1,741.3 875.7,769.1 881.0,722.8 885.7,773.7 887.6,774.4 890.3,749.9 892.3,751.9 894.3,761.2 896.2,763.1 901.5,713.5 907.5,788.3 908.8,789.6 911.5,744.6 913.4,745.3 916.1,765.1 919.8,728.7 922.0,733.4 924.7,785.0 926.7,774.4 929.3,722.1 931.3,724.1 934.6,746.6 937.3,751.9 941.2,770.4 945.2,747.9 947.2,744.6 949.8,747.3 953.8,734.0 955.1,735.4 959.8,779.7 961.7,771.7 965.1,730.1 967.0,730.1 970.3,755.2 975.0,744.6 979.6,768.4 984.3,734.0 986.2,737.3 987.6,745.9 989.6,747.3 992.2,735.4 997.5,771.1 1000.8,746.6 1002.1,744.6 1005.4,758.5 1009.1,739.3 1010.1,740.0 1013.6,763.1 1018.4,736.0 1023.3,765.1 1025.3,763.1 1029.9,731.4 1034.8,776.4 1039.8,732.1 1041.2,732.1 1044.5,751.9 1047.8,746.6 1052.4,766.5 1058.4,746.6 1062.3,727.4 1063.7,726.8 1069.0,776.4 1072.3,756.5 1075.3,766.5 1080.2,718.8 1082.2,723.5 1084.8,754.5 1087.5,756.5 1091.4,756.5 1096.1,771.7 1100.7,724.8 1102.7,720.8 1106.0,760.5 1108.0,761.8 1110.0,738.7 1114.0,767.8 1118.6,744.6 1121.9,755.9 1126.5,736.0 1131.2,772.4 1136.5,740.0 1140.4,751.9 1144.4,747.3 1149.7,759.2 1151.7,759.8 1157.6,734.7 1162.3,759.8 1167.6,732.7 1172.9,775.7 1174.2,774.4 1178.1,730.7 1182.8,762.5 1186.7,744.6 1191.4,767.1 1194.7,758.5 1196.7,757.9 1201.3,725.4 1204.6,760.5 1206.0,757.2 1208.6,732.7 1209.9,732.7 1213.2,796.2 1214.6,798.9 1217.9,744.6 1219.8,740.0 1221.8,748.6 1223.2,748.6 1226.2,710.9 1227.8,712.9 1232.4,794.2 1237.7,731.4 1239.0,732.1 1242.3,764.5 1247.0,742.6 1250.9,776.4 1252.0,776.4 1254.9,721.5 1256.9,722.8 1260.2,770.4 1263.3,730.7 1264.8,730.7 1268.1,797.6 1269.5,792.9 1272.8,712.9 1274.8,714.8 1278.1,747.9 1280.7,751.9 1284.7,786.3 1286.7,782.3 1289.3,737.3 1291.0,734.0 1292.6,747.3 1294.2,752.6 1295.5,746.0" fill="none" stroke="#bfbfbf" stroke-width="2.15" stroke-linejoin="round"/>
<g stroke="#bebebe" stroke-width="2.4" fill="none"><line x1="211.7" y1="450" x2="211.7" y2="563.3"/><line x1="204.4" y1="450" x2="218.8" y2="450"/><line x1="204.4" y1="563.3" x2="218.8" y2="563.3"/></g>
<circle cx="211.7" cy="506.8" r="4.2" fill="#000"/>
<rect x="163.5" y="110.6" width="1296.1" height="792.0" fill="none" stroke="#000" stroke-width="2.5"/>
<g stroke="#000" stroke-width="1.3"><line x1="157.0" y1="902.6" x2="163.5" y2="902.6"/><line x1="157.0" y1="888.5" x2="163.5" y2="888.5"/><line x1="157.0" y1="874.3" x2="163.5" y2="874.3"/><line x1="151.0" y1="860.2" x2="163.5" y2="860.2"/><line x1="157.0" y1="846.0" x2="163.5" y2="846.0"/><line x1="157.0" y1="831.9" x2="163.5" y2="831.9"/><line x1="157.0" y1="817.7" x2="163.5" y2="817.7"/><line x1="157.0" y1="803.6" x2="163.5" y2="803.6"/><line x1="151.0" y1="789.5" x2="163.5" y2="789.5"/><line x1="157.0" y1="775.3" x2="163.5" y2="775.3"/><line x1="157.0" y1="761.2" x2="163.5" y2="761.2"/><line x1="157.0" y1="747.0" x2="163.5" y2="747.0"/><line x1="157.0" y1="732.9" x2="163.5" y2="732.9"/><line x1="151.0" y1="718.7" x2="163.5" y2="718.7"/><line x1="157.0" y1="704.6" x2="163.5" y2="704.6"/><line x1="157.0" y1="690.5" x2="163.5" y2="690.5"/><line x1="157.0" y1="676.3" x2="163.5" y2="676.3"/><line x1="157.0" y1="662.2" x2="163.5" y2="662.2"/><line x1="151.0" y1="648.0" x2="163.5" y2="648.0"/><line x1="157.0" y1="633.9" x2="163.5" y2="633.9"/><line x1="157.0" y1="619.7" x2="163.5" y2="619.7"/><line x1="157.0" y1="605.6" x2="163.5" y2="605.6"/><line x1="157.0" y1="591.5" x2="163.5" y2="591.5"/><line x1="151.0" y1="577.3" x2="163.5" y2="577.3"/><line x1="157.0" y1="563.2" x2="163.5" y2="563.2"/><line x1="157.0" y1="549.0" x2="163.5" y2="549.0"/><line x1="157.0" y1="534.9" x2="163.5" y2="534.9"/><line x1="157.0" y1="520.7" x2="163.5" y2="520.7"/><line x1="151.0" y1="506.6" x2="163.5" y2="506.6"/><line x1="157.0" y1="492.5" x2="163.5" y2="492.5"/><line x1="157.0" y1="478.3" x2="163.5" y2="478.3"/><line x1="157.0" y1="464.2" x2="163.5" y2="464.2"/><line x1="157.0" y1="450.0" x2="163.5" y2="450.0"/><line x1="151.0" y1="435.9" x2="163.5" y2="435.9"/><line x1="157.0" y1="421.7" x2="163.5" y2="421.7"/><line x1="157.0" y1="407.6" x2="163.5" y2="407.6"/><line x1="157.0" y1="393.5" x2="163.5" y2="393.5"/><line x1="157.0" y1="379.3" x2="163.5" y2="379.3"/><line x1="151.0" y1="365.2" x2="163.5" y2="365.2"/><line x1="157.0" y1="351.0" x2="163.5" y2="351.0"/><line x1="157.0" y1="336.9" x2="163.5" y2="336.9"/><line x1="157.0" y1="322.7" x2="163.5" y2="322.7"/><line x1="157.0" y1="308.6" x2="163.5" y2="308.6"/><line x1="151.0" y1="294.5" x2="163.5" y2="294.5"/><line x1="157.0" y1="280.3" x2="163.5" y2="280.3"/><line x1="157.0" y1="266.2" x2="163.5" y2="266.2"/><line x1="157.0" y1="252.0" x2="163.5" y2="252.0"/><line x1="157.0" y1="237.9" x2="163.5" y2="237.9"/><line x1="151.0" y1="223.7" x2="163.5" y2="223.7"/><line x1="157.0" y1="209.6" x2="163.5" y2="209.6"/><line x1="157.0" y1="195.5" x2="163.5" y2="195.5"/><line x1="157.0" y1="181.3" x2="163.5" y2="181.3"/><line x1="157.0" y1="167.2" x2="163.5" y2="167.2"/><line x1="151.0" y1="153.0" x2="163.5" y2="153.0"/><line x1="157.0" y1="138.9" x2="163.5" y2="138.9"/><line x1="157.0" y1="124.7" x2="163.5" y2="124.7"/><line x1="157.0" y1="110.6" x2="163.5" y2="110.6"/><line x1="163.5" y1="902.6" x2="163.5" y2="913.6"/><line x1="163.5" y1="110.6" x2="163.5" y2="99.6"/><line x1="179.7" y1="902.6" x2="179.7" y2="908.1"/><line x1="179.7" y1="110.6" x2="179.7" y2="105.1"/><line x1="195.9" y1="902.6" x2="195.9" y2="908.1"/><line x1="195.9" y1="110.6" x2="195.9" y2="105.1"/><line x1="212.1" y1="902.6" x2="212.1" y2="908.1"/><line x1="212.1" y1="110.6" x2="212.1" y2="105.1"/><line x1="228.3" y1="902.6" x2="228.3" y2="908.1"/><line x1="228.3" y1="110.6" x2="228.3" y2="105.1"/><line x1="244.5" y1="902.6" x2="244.5" y2="908.1"/><line x1="244.5" y1="110.6" x2="244.5" y2="105.1"/><line x1="260.7" y1="902.6" x2="260.7" y2="908.1"/><line x1="260.7" y1="110.6" x2="260.7" y2="105.1"/><line x1="276.9" y1="902.6" x2="276.9" y2="908.1"/><line x1="276.9" y1="110.6" x2="276.9" y2="105.1"/><line x1="293.1" y1="902.6" x2="293.1" y2="908.1"/><line x1="293.1" y1="110.6" x2="293.1" y2="105.1"/><line x1="309.3" y1="902.6" x2="309.3" y2="908.1"/><line x1="309.3" y1="110.6" x2="309.3" y2="105.1"/><line x1="325.5" y1="902.6" x2="325.5" y2="913.6"/><line x1="325.5" y1="110.6" x2="325.5" y2="99.6"/><line x1="341.7" y1="902.6" x2="341.7" y2="908.1"/><line x1="341.7" y1="110.6" x2="341.7" y2="105.1"/><line x1="357.9" y1="902.6" x2="357.9" y2="908.1"/><line x1="357.9" y1="110.6" x2="357.9" y2="105.1"/><line x1="374.1" y1="902.6" x2="374.1" y2="908.1"/><line x1="374.1" y1="110.6" x2="374.1" y2="105.1"/><line x1="390.3" y1="902.6" x2="390.3" y2="908.1"/><line x1="390.3" y1="110.6" x2="390.3" y2="105.1"/><line x1="406.5" y1="902.6" x2="406.5" y2="908.1"/><line x1="406.5" y1="110.6" x2="406.5" y2="105.1"/><line x1="422.7" y1="902.6" x2="422.7" y2="908.1"/><line x1="422.7" y1="110.6" x2="422.7" y2="105.1"/><line x1="438.9" y1="902.6" x2="438.9" y2="908.1"/><line x1="438.9" y1="110.6" x2="438.9" y2="105.1"/><line x1="455.1" y1="902.6" x2="455.1" y2="908.1"/><line x1="455.1" y1="110.6" x2="455.1" y2="105.1"/><line x1="471.3" y1="902.6" x2="471.3" y2="908.1"/><line x1="471.3" y1="110.6" x2="471.3" y2="105.1"/><line x1="487.5" y1="902.6" x2="487.5" y2="913.6"/><line x1="487.5" y1="110.6" x2="487.5" y2="99.6"/><line x1="503.7" y1="902.6" x2="503.7" y2="908.1"/><line x1="503.7" y1="110.6" x2="503.7" y2="105.1"/><line x1="519.9" y1="902.6" x2="519.9" y2="908.1"/><line x1="519.9" y1="110.6" x2="519.9" y2="105.1"/><line x1="536.1" y1="902.6" x2="536.1" y2="908.1"/><line x1="536.1" y1="110.6" x2="536.1" y2="105.1"/><line x1="552.3" y1="902.6" x2="552.3" y2="908.1"/><line x1="552.3" y1="110.6" x2="552.3" y2="105.1"/><line x1="568.5" y1="902.6" x2="568.5" y2="908.1"/><line x1="568.5" y1="110.6" x2="568.5" y2="105.1"/><line x1="584.7" y1="902.6" x2="584.7" y2="908.1"/><line x1="584.7" y1="110.6" x2="584.7" y2="105.1"/><line x1="600.9" y1="902.6" x2="600.9" y2="908.1"/><line x1="600.9" y1="110.6" x2="600.9" y2="105.1"/><line x1="617.1" y1="902.6" x2="617.1" y2="908.1"/><line x1="617.1" y1="110.6" x2="617.1" y2="105.1"/><line x1="633.3" y1="902.6" x2="633.3" y2="908.1"/><line x1="633.3" y1="110.6" x2="633.3" y2="105.1"/><line x1="649.5" y1="902.6" x2="649.5" y2="913.6"/><line x1="649.5" y1="110.6" x2="649.5" y2="99.6"/><line x1="665.7" y1="902.6" x2="665.7" y2="908.1"/><line x1="665.7" y1="110.6" x2="665.7" y2="105.1"/><line x1="681.9" y1="902.6" x2="681.9" y2="908.1"/><line x1="681.9" y1="110.6" x2="681.9" y2="105.1"/><line x1="698.1" y1="902.6" x2="698.1" y2="908.1"/><line x1="698.1" y1="110.6" x2="698.1" y2="105.1"/><line x1="714.3" y1="902.6" x2="714.3" y2="908.1"/><line x1="714.3" y1="110.6" x2="714.3" y2="105.1"/><line x1="730.5" y1="902.6" x2="730.5" y2="908.1"/><line x1="730.5" y1="110.6" x2="730.5" y2="105.1"/><line x1="746.7" y1="902.6" x2="746.7" y2="908.1"/><line x1="746.7" y1="110.6" x2="746.7" y2="105.1"/><line x1="762.9" y1="902.6" x2="762.9" y2="908.1"/><line x1="762.9" y1="110.6" x2="762.9" y2="105.1"/><line x1="779.1" y1="902.6" x2="779.1" y2="908.1"/><line x1="779.1" y1="110.6" x2="779.1" y2="105.1"/><line x1="795.3" y1="902.6" x2="795.3" y2="908.1"/><line x1="795.3" y1="110.6" x2="795.3" y2="105.1"/><line x1="811.5" y1="902.6" x2="811.5" y2="913.6"/><line x1="811.5" y1="110.6" x2="811.5" y2="99.6"/><line x1="827.8" y1="902.6" x2="827.8" y2="908.1"/><line x1="827.8" y1="110.6" x2="827.8" y2="105.1"/><line x1="844.0" y1="902.6" x2="844.0" y2="908.1"/><line x1="844.0" y1="110.6" x2="844.0" y2="105.1"/><line x1="860.2" y1="902.6" x2="860.2" y2="908.1"/><line x1="860.2" y1="110.6" x2="860.2" y2="105.1"/><line x1="876.4" y1="902.6" x2="876.4" y2="908.1"/><line x1="876.4" y1="110.6" x2="876.4" y2="105.1"/><line x1="892.6" y1="902.6" x2="892.6" y2="908.1"/><line x1="892.6" y1="110.6" x2="892.6" y2="105.1"/><line x1="908.8" y1="902.6" x2="908.8" y2="908.1"/><line x1="908.8" y1="110.6" x2="908.8" y2="105.1"/><line x1="925.0" y1="902.6" x2="925.0" y2="908.1"/><line x1="925.0" y1="110.6" x2="925.0" y2="105.1"/><line x1="941.2" y1="902.6" x2="941.2" y2="908.1"/><line x1="941.2" y1="110.6" x2="941.2" y2="105.1"/><line x1="957.4" y1="902.6" x2="957.4" y2="908.1"/><line x1="957.4" y1="110.6" x2="957.4" y2="105.1"/><line x1="973.6" y1="902.6" x2="973.6" y2="913.6"/><line x1="973.6" y1="110.6" x2="973.6" y2="99.6"/><line x1="989.8" y1="902.6" x2="989.8" y2="908.1"/><line x1="989.8" y1="110.6" x2="989.8" y2="105.1"/><line x1="1006.0" y1="902.6" x2="1006.0" y2="908.1"/><line x1="1006.0" y1="110.6" x2="1006.0" y2="105.1"/><line x1="1022.2" y1="902.6" x2="1022.2" y2="908.1"/><line x1="1022.2" y1="110.6" x2="1022.2" y2="105.1"/><line x1="1038.4" y1="902.6" x2="1038.4" y2="908.1"/><line x1="1038.4" y1="110.6" x2="1038.4" y2="105.1"/><line x1="1054.6" y1="902.6" x2="1054.6" y2="908.1"/><line x1="1054.6" y1="110.6" x2="1054.6" y2="105.1"/><line x1="1070.8" y1="902.6" x2="1070.8" y2="908.1"/><line x1="1070.8" y1="110.6" x2="1070.8" y2="105.1"/><line x1="1087.0" y1="902.6" x2="1087.0" y2="908.1"/><line x1="1087.0" y1="110.6" x2="1087.0" y2="105.1"/><line x1="1103.2" y1="902.6" x2="1103.2" y2="908.1"/><line x1="1103.2" y1="110.6" x2="1103.2" y2="105.1"/><line x1="1119.4" y1="902.6" x2="1119.4" y2="908.1"/><line x1="1119.4" y1="110.6" x2="1119.4" y2="105.1"/><line x1="1135.6" y1="902.6" x2="1135.6" y2="913.6"/><line x1="1135.6" y1="110.6" x2="1135.6" y2="99.6"/><line x1="1151.8" y1="902.6" x2="1151.8" y2="908.1"/><line x1="1151.8" y1="110.6" x2="1151.8" y2="105.1"/><line x1="1168.0" y1="902.6" x2="1168.0" y2="908.1"/><line x1="1168.0" y1="110.6" x2="1168.0" y2="105.1"/><line x1="1184.2" y1="902.6" x2="1184.2" y2="908.1"/><line x1="1184.2" y1="110.6" x2="1184.2" y2="105.1"/><line x1="1200.4" y1="902.6" x2="1200.4" y2="908.1"/><line x1="1200.4" y1="110.6" x2="1200.4" y2="105.1"/><line x1="1216.6" y1="902.6" x2="1216.6" y2="908.1"/><line x1="1216.6" y1="110.6" x2="1216.6" y2="105.1"/><line x1="1232.8" y1="902.6" x2="1232.8" y2="908.1"/><line x1="1232.8" y1="110.6" x2="1232.8" y2="105.1"/><line x1="1249.0" y1="902.6" x2="1249.0" y2="908.1"/><line x1="1249.0" y1="110.6" x2="1249.0" y2="105.1"/><line x1="1265.2" y1="902.6" x2="1265.2" y2="908.1"/><line x1="1265.2" y1="110.6" x2="1265.2" y2="105.1"/><line x1="1281.4" y1="902.6" x2="1281.4" y2="908.1"/><line x1="1281.4" y1="110.6" x2="1281.4" y2="105.1"/><line x1="1297.6" y1="902.6" x2="1297.6" y2="913.6"/><line x1="1297.6" y1="110.6" x2="1297.6" y2="99.6"/><line x1="1313.8" y1="902.6" x2="1313.8" y2="908.1"/><line x1="1313.8" y1="110.6" x2="1313.8" y2="105.1"/><line x1="1330.0" y1="902.6" x2="1330.0" y2="908.1"/><line x1="1330.0" y1="110.6" x2="1330.0" y2="105.1"/><line x1="1346.2" y1="902.6" x2="1346.2" y2="908.1"/><line x1="1346.2" y1="110.6" x2="1346.2" y2="105.1"/><line x1="1362.4" y1="902.6" x2="1362.4" y2="908.1"/><line x1="1362.4" y1="110.6" x2="1362.4" y2="105.1"/><line x1="1378.6" y1="902.6" x2="1378.6" y2="908.1"/><line x1="1378.6" y1="110.6" x2="1378.6" y2="105.1"/><line x1="1394.8" y1="902.6" x2="1394.8" y2="908.1"/><line x1="1394.8" y1="110.6" x2="1394.8" y2="105.1"/><line x1="1411.0" y1="902.6" x2="1411.0" y2="908.1"/><line x1="1411.0" y1="110.6" x2="1411.0" y2="105.1"/><line x1="1427.2" y1="902.6" x2="1427.2" y2="908.1"/><line x1="1427.2" y1="110.6" x2="1427.2" y2="105.1"/><line x1="1443.4" y1="902.6" x2="1443.4" y2="908.1"/><line x1="1443.4" y1="110.6" x2="1443.4" y2="105.1"/><line x1="1459.6" y1="902.6" x2="1459.6" y2="913.6"/><line x1="1459.6" y1="110.6" x2="1459.6" y2="99.6"/><line x1="1459.6" y1="500.5" x2="1465.1" y2="500.5"/><line x1="1459.6" y1="494.4" x2="1465.1" y2="494.4"/><line x1="1459.6" y1="488.3" x2="1465.1" y2="488.3"/><line x1="1459.6" y1="482.2" x2="1465.1" y2="482.2"/><line x1="1459.6" y1="476.1" x2="1465.1" y2="476.1"/><line x1="1459.6" y1="470.1" x2="1465.1" y2="470.1"/><line x1="1459.6" y1="464.0" x2="1465.1" y2="464.0"/><line x1="1459.6" y1="457.9" x2="1465.1" y2="457.9"/><line x1="1459.6" y1="451.8" x2="1465.1" y2="451.8"/><line x1="1459.6" y1="445.7" x2="1471.1" y2="445.7"/><line x1="1459.6" y1="439.6" x2="1465.1" y2="439.6"/><line x1="1459.6" y1="433.5" x2="1465.1" y2="433.5"/><line x1="1459.6" y1="427.4" x2="1465.1" y2="427.4"/><line x1="1459.6" y1="421.3" x2="1465.1" y2="421.3"/><line x1="1459.6" y1="415.3" x2="1465.1" y2="415.3"/><line x1="1459.6" y1="409.2" x2="1465.1" y2="409.2"/><line x1="1459.6" y1="403.1" x2="1465.1" y2="403.1"/><line x1="1459.6" y1="397.0" x2="1465.1" y2="397.0"/><line x1="1459.6" y1="390.9" x2="1465.1" y2="390.9"/><line x1="1459.6" y1="384.8" x2="1471.1" y2="384.8"/><line x1="1459.6" y1="378.7" x2="1465.1" y2="378.7"/><line x1="1459.6" y1="372.6" x2="1465.1" y2="372.6"/><line x1="1459.6" y1="366.6" x2="1465.1" y2="366.6"/><line x1="1459.6" y1="360.5" x2="1465.1" y2="360.5"/><line x1="1459.6" y1="354.4" x2="1465.1" y2="354.4"/><line x1="1459.6" y1="348.3" x2="1465.1" y2="348.3"/><line x1="1459.6" y1="342.2" x2="1465.1" y2="342.2"/><line x1="1459.6" y1="336.1" x2="1465.1" y2="336.1"/><line x1="1459.6" y1="330.0" x2="1465.1" y2="330.0"/><line x1="1459.6" y1="323.9" x2="1471.1" y2="323.9"/><line x1="1459.6" y1="317.9" x2="1465.1" y2="317.9"/><line x1="1459.6" y1="311.8" x2="1465.1" y2="311.8"/><line x1="1459.6" y1="305.7" x2="1465.1" y2="305.7"/><line x1="1459.6" y1="299.6" x2="1465.1" y2="299.6"/><line x1="1459.6" y1="293.5" x2="1465.1" y2="293.5"/><line x1="1459.6" y1="287.4" x2="1465.1" y2="287.4"/><line x1="1459.6" y1="281.3" x2="1465.1" y2="281.3"/><line x1="1459.6" y1="275.2" x2="1465.1" y2="275.2"/><line x1="1459.6" y1="269.1" x2="1465.1" y2="269.1"/><line x1="1459.6" y1="263.1" x2="1471.1" y2="263.1"/><line x1="1459.6" y1="257.0" x2="1465.1" y2="257.0"/><line x1="1459.6" y1="250.9" x2="1465.1" y2="250.9"/><line x1="1459.6" y1="244.8" x2="1465.1" y2="244.8"/><line x1="1459.6" y1="238.7" x2="1465.1" y2="238.7"/><line x1="1459.6" y1="232.6" x2="1465.1" y2="232.6"/><line x1="1459.6" y1="226.5" x2="1465.1" y2="226.5"/><line x1="1459.6" y1="220.4" x2="1465.1" y2="220.4"/><line x1="1459.6" y1="214.4" x2="1465.1" y2="214.4"/><line x1="1459.6" y1="208.3" x2="1465.1" y2="208.3"/><line x1="1459.6" y1="202.2" x2="1471.1" y2="202.2"/><line x1="1459.6" y1="196.1" x2="1465.1" y2="196.1"/><line x1="1459.6" y1="190.0" x2="1465.1" y2="190.0"/><line x1="1459.6" y1="183.9" x2="1465.1" y2="183.9"/><line x1="1459.6" y1="177.8" x2="1465.1" y2="177.8"/><line x1="1459.6" y1="171.7" x2="1465.1" y2="171.7"/><line x1="1459.6" y1="165.7" x2="1465.1" y2="165.7"/><line x1="1459.6" y1="159.6" x2="1465.1" y2="159.6"/><line x1="1459.6" y1="153.5" x2="1465.1" y2="153.5"/><line x1="1459.6" y1="147.4" x2="1465.1" y2="147.4"/><line x1="1459.6" y1="141.3" x2="1471.1" y2="141.3"/><line x1="1459.6" y1="135.2" x2="1465.1" y2="135.2"/><line x1="1459.6" y1="129.1" x2="1465.1" y2="129.1"/><line x1="1459.6" y1="123.0" x2="1465.1" y2="123.0"/><line x1="1459.6" y1="116.9" x2="1465.1" y2="116.9"/><line x1="1459.6" y1="110.9" x2="1465.1" y2="110.9"/><line x1="1459.6" y1="902.4" x2="1471.1" y2="902.4"/><line x1="1459.6" y1="889.2" x2="1465.1" y2="889.2"/><line x1="1459.6" y1="876.0" x2="1465.1" y2="876.0"/><line x1="1459.6" y1="862.8" x2="1465.1" y2="862.8"/><line x1="1459.6" y1="849.6" x2="1465.1" y2="849.6"/><line x1="1459.6" y1="836.4" x2="1471.1" y2="836.4"/><line x1="1459.6" y1="823.2" x2="1465.1" y2="823.2"/><line x1="1459.6" y1="810.0" x2="1465.1" y2="810.0"/><line x1="1459.6" y1="796.8" x2="1465.1" y2="796.8"/><line x1="1459.6" y1="783.6" x2="1465.1" y2="783.6"/><line x1="1459.6" y1="770.3" x2="1471.1" y2="770.3"/><line x1="1459.6" y1="757.1" x2="1465.1" y2="757.1"/><line x1="1459.6" y1="743.9" x2="1465.1" y2="743.9"/><line x1="1459.6" y1="730.7" x2="1465.1" y2="730.7"/><line x1="1459.6" y1="717.5" x2="1465.1" y2="717.5"/><line x1="1459.6" y1="704.3" x2="1471.1" y2="704.3"/><line x1="1459.6" y1="691.1" x2="1465.1" y2="691.1"/><line x1="1459.6" y1="677.9" x2="1465.1" y2="677.9"/><line x1="1459.6" y1="664.7" x2="1465.1" y2="664.7"/><line x1="1459.6" y1="651.5" x2="1465.1" y2="651.5"/><line x1="1459.6" y1="638.2" x2="1471.1" y2="638.2"/><line x1="1459.6" y1="625.0" x2="1465.1" y2="625.0"/><line x1="1459.6" y1="611.8" x2="1465.1" y2="611.8"/><line x1="1459.6" y1="598.6" x2="1465.1" y2="598.6"/><line x1="1459.6" y1="585.4" x2="1465.1" y2="585.4"/><line x1="1459.6" y1="572.2" x2="1471.1" y2="572.2"/><line x1="1459.6" y1="559.0" x2="1465.1" y2="559.0"/><line x1="1459.6" y1="545.8" x2="1465.1" y2="545.8"/><line x1="1459.6" y1="532.6" x2="1465.1" y2="532.6"/><line x1="1459.6" y1="519.4" x2="1465.1" y2="519.4"/></g>
<g font-size="28" fill="#000"><text transform="translate(140.4,870.0) scale(1,1.025)" text-anchor="end"><tspan baseline-shift="-3.0">−</tspan>125</text><text transform="translate(140.4,799.3) scale(1,1.025)" text-anchor="end"><tspan baseline-shift="-3.0">−</tspan>100</text><text transform="translate(140.4,728.5) scale(1,1.025)" text-anchor="end"><tspan baseline-shift="-3.0">−</tspan>75</text><text transform="translate(140.4,657.8) scale(1,1.025)" text-anchor="end"><tspan baseline-shift="-3.0">−</tspan>50</text><text transform="translate(140.4,587.1) scale(1,1.025)" text-anchor="end"><tspan baseline-shift="-3.0">−</tspan>25</text><text transform="translate(140.4,516.4) scale(1,1.025)" text-anchor="end">0</text><text transform="translate(140.4,445.7) scale(1,1.025)" text-anchor="end">25</text><text transform="translate(140.4,375.0) scale(1,1.025)" text-anchor="end">50</text><text transform="translate(140.4,304.3) scale(1,1.025)" text-anchor="end">75</text><text transform="translate(140.4,233.5) scale(1,1.025)" text-anchor="end">100</text><text transform="translate(140.4,162.8) scale(1,1.025)" text-anchor="end">125</text><text transform="translate(163.5,945.8) scale(1,1.025)" text-anchor="middle"><tspan baseline-shift="-3.0">−</tspan>10</text><text transform="translate(325.5,945.8) scale(1,1.025)" text-anchor="middle">0</text><text transform="translate(487.5,945.8) scale(1,1.025)" text-anchor="middle">10</text><text transform="translate(649.5,945.8) scale(1,1.025)" text-anchor="middle">20</text><text transform="translate(811.5,945.8) scale(1,1.025)" text-anchor="middle">30</text><text transform="translate(973.6,945.8) scale(1,1.025)" text-anchor="middle">40</text><text transform="translate(1135.6,945.8) scale(1,1.025)" text-anchor="middle">50</text><text transform="translate(1297.6,945.8) scale(1,1.025)" text-anchor="middle">60</text><text transform="translate(1459.6,945.8) scale(1,1.025)" text-anchor="middle">70</text><text transform="translate(1544.3,455.5) scale(1,1.025)" text-anchor="end">980</text><text transform="translate(1544.3,394.6) scale(1,1.025)" text-anchor="end">990</text><text transform="translate(1544.3,333.7) scale(1,1.025)" text-anchor="end">1000</text><text transform="translate(1544.3,272.9) scale(1,1.025)" text-anchor="end">1010</text><text transform="translate(1544.3,212.0) scale(1,1.025)" text-anchor="end">1020</text><text transform="translate(1544.3,151.1) scale(1,1.025)" text-anchor="end">1030</text><text transform="translate(1560.3,912.2) scale(1,1.025)" text-anchor="end"><tspan baseline-shift="-3.0">−</tspan>1500</text><text transform="translate(1560.3,846.2) scale(1,1.025)" text-anchor="end"><tspan baseline-shift="-3.0">−</tspan>1000</text><text transform="translate(1560.3,780.1) scale(1,1.025)" text-anchor="end"><tspan baseline-shift="-3.0">−</tspan>500</text><text transform="translate(1560.3,714.1) scale(1,1.025)" text-anchor="end">0</text><text transform="translate(1560.3,648.0) scale(1,1.025)" text-anchor="end">500</text><text transform="translate(1560.3,582.0) scale(1,1.025)" text-anchor="end">1000</text></g>
<rect x="167" y="28.5" width="372.5" height="153" fill="#fff" stroke="#777" stroke-width="1.1"/>
<line x1="204.2" y1="39.3" x2="260" y2="39.3" stroke="#0000ff" stroke-width="0.9"/>
<circle cx="232.3" cy="39.3" r="4.3" fill="#0000ff"/>
<line x1="204.2" y1="69.8" x2="260" y2="69.8" stroke="#00c8c8" stroke-width="0.9"/>
<circle cx="232.3" cy="69.8" r="4.3" fill="#00c8c8"/>
<line x1="204.2" y1="100.3" x2="260" y2="100.3" stroke="#000" stroke-width="2.6"/>
<line x1="204.2" y1="130.8" x2="260" y2="130.8" stroke="#bebebe" stroke-width="2.8"/>
<line x1="204.2" y1="161.3" x2="260" y2="161.3" stroke="#ff0000" stroke-width="0.9"/>
<circle cx="232.3" cy="161.3" r="4.3" fill="#ff0000"/>
<text transform="translate(559.79,82.10) scale(1.0080,1.0200)" font-size="32" font-weight="bold">SCG_054 gravimeter Onsala Space Observatory, Sweden</text>
<text transform="translate(192.20,887.80) scale(0.9980,1.0200)" font-size="28" font-weight="bold">The latest 1<tspan baseline-shift="-4.2">−</tspan>hour, 1<tspan baseline-shift="-4.2">−</tspan>second sampling</text>
<text transform="translate(997.01,887.80) scale(0.9933,1.0200)" font-size="28" font-weight="bold">End at 2016<tspan baseline-shift="-4.2">−</tspan>03<tspan baseline-shift="-4.2">−</tspan>18 05:59:59 UTC</text>
<text transform="translate(278.71,48.00) scale(0.9957,1.0300)" font-size="24.4">Pressure</text>
<text transform="translate(278.71,77.90) scale(0.9968,1.0300)" font-size="24.4">100 P, band<tspan baseline-shift="-2.6">−</tspan>passed</text>
<text transform="translate(278.77,109.10) scale(0.9907,1.0300)" font-size="24.4">Residual</text>
<text transform="translate(279.13,138.80) scale(0.9838,1.0300)" font-size="24.4">... last 10 min.</text>
<text transform="translate(278.68,170.00) scale(1.0150,1.0300)" font-size="24.4">Theor.Tide</text>
<text transform="translate(462.80,999.80) scale(1.0022,1.0450)" font-size="36">Time [min] from 2016<tspan baseline-shift="-3.9">−</tspan>03<tspan baseline-shift="-3.9">−</tspan>18 05:00:00 UTC</text>
<text transform="translate(48.80,676.60) rotate(-90) scale(1.0006,1.0000)" font-size="36">Obs’d Gravity [nm/s<tspan font-size="25" dy="-12.3">2</tspan><tspan dy="12.3">]</tspan></text>
<text transform="translate(1598.80,427.89) rotate(-90) scale(0.9979,1.0450)" font-size="36">Pressure [hPa]</text>
<text transform="translate(1614.90,799.81) rotate(-90) scale(1.0070,1.0450)" font-size="36">Tide [nm/s<tspan font-size="25" dy="-11.8">2</tspan><tspan dy="11.8">]</tspan></text>
<text transform="translate(243.80,604.70) rotate(-90) scale(1.0296,1.0400)" font-size="23.5">Typical noise level</text>
</svg></body></html>
